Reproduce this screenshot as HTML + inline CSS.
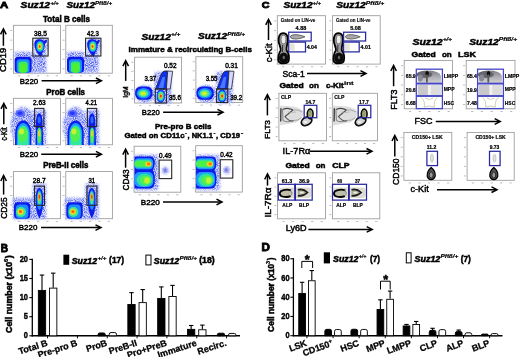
<!DOCTYPE html><html><head><meta charset="utf-8"><style>html,body{margin:0;padding:0;background:#fff;}svg{display:block;filter:blur(0.3px);}text{font-family:"Liberation Sans",sans-serif;}</style></head><body>
<svg width="520" height="357" viewBox="0 0 520 357">
<defs>
<filter id="b1" x="-30%" y="-30%" width="160%" height="160%"><feGaussianBlur stdDeviation="0.7"/></filter>
<filter id="b2" x="-30%" y="-30%" width="160%" height="160%"><feGaussianBlur stdDeviation="1.3"/></filter>
<filter id="b05" x="-30%" y="-30%" width="160%" height="160%"><feGaussianBlur stdDeviation="0.45"/></filter>
<radialGradient id="haze" cx="50%" cy="50%" r="50%">
 <stop offset="0" stop-color="#8090ff" stop-opacity="0.5"/>
 <stop offset="1" stop-color="#b0c0ff" stop-opacity="0"/>
</radialGradient>
<radialGradient id="dot" cx="50%" cy="50%" r="50%">
 <stop offset="0" stop-color="#6060e0"/>
 <stop offset="0.5" stop-color="#9898f0" stop-opacity="0.7"/>
 <stop offset="1" stop-color="#d0d0ff" stop-opacity="0"/>
</radialGradient>
<filter id="spk" x="-20%" y="-20%" width="140%" height="140%">
 <feGaussianBlur in="SourceGraphic" stdDeviation="1.4" result="bl"/>
 <feTurbulence type="fractalNoise" baseFrequency="1.1" numOctaves="1" seed="7" result="n"/>
 <feColorMatrix in="n" type="matrix" values="0 0 0 0 0  0 0 0 0 0  0 0 0 0 0  3 0 0 0 -1.1" result="na"/>
 <feComposite in="bl" in2="na" operator="in" result="c"/>
 <feGaussianBlur in="c" stdDeviation="0.35"/>
</filter>
<linearGradient id="lmpp" x1="0" y1="0" x2="0" y2="1">
 <stop offset="0" stop-color="#7c7c86"/>
 <stop offset="0.45" stop-color="#a8a8b0"/>
 <stop offset="1" stop-color="#d4d4d4"/>
</linearGradient>
</defs>

<rect width="520" height="357" fill="#fff"/>
<text x="0" y="8.4" font-size="8.8" font-weight="bold" fill="#000" stroke="#000" stroke-width="0.80" textLength="8.20" lengthAdjust="spacingAndGlyphs">A</text>
<text x="20.6" y="8.1" font-size="9.5" font-weight="bold" fill="#000" font-style="italic" stroke="#000" stroke-width="0.50" textLength="29.40" lengthAdjust="spacingAndGlyphs">Suz12</text>
<text x="50.4" y="4.6" font-size="5.3" font-weight="bold" fill="#000" font-style="italic" stroke="#000" stroke-width="0.20" textLength="8.30" lengthAdjust="spacingAndGlyphs">+/+</text>
<text x="66.5" y="8.1" font-size="9.5" font-weight="bold" fill="#000" font-style="italic" stroke="#000" stroke-width="0.50" textLength="28.50" lengthAdjust="spacingAndGlyphs">Suz12</text>
<text x="95" y="4.7" font-size="5.3" font-weight="bold" fill="#000" font-style="italic" stroke="#000" stroke-width="0.20" textLength="17.00" lengthAdjust="spacingAndGlyphs">Pft8/+</text>
<text x="43" y="21.6" font-size="8.3" font-weight="bold" fill="#000" stroke="#000" stroke-width="0.50" textLength="47.00" lengthAdjust="spacingAndGlyphs">Total B cells</text>
<rect x="13.4" y="25.3" width="47.10" height="47.90" fill="none" stroke="#9a9a9a" stroke-width="0.85"/>
<rect x="10.2" y="30.1" width="2" height="0.9" fill="#b4b4b4"/>
<rect x="10.2" y="39.7" width="2" height="0.9" fill="#b4b4b4"/>
<rect x="10.2" y="49.2" width="2" height="0.9" fill="#b4b4b4"/>
<rect x="10.2" y="58.8" width="2" height="0.9" fill="#b4b4b4"/>
<rect x="10.2" y="68.4" width="2" height="0.9" fill="#b4b4b4"/>
<rect x="18.1" y="75.4" width="2.2" height="0.9" fill="#b4b4b4"/>
<rect x="27.5" y="75.4" width="2.2" height="0.9" fill="#b4b4b4"/>
<rect x="37.0" y="75.4" width="2.2" height="0.9" fill="#b4b4b4"/>
<rect x="46.4" y="75.4" width="2.2" height="0.9" fill="#b4b4b4"/>
<rect x="55.8" y="75.4" width="2.2" height="0.9" fill="#b4b4b4"/>
<g filter="url(#b2)" fill="#dadefc"><rect x="30.0" y="54" width="16" height="18.5"/><rect x="36.0" y="50" width="7" height="22"/><rect x="14.5" y="52" width="17" height="6"/><ellipse cx="41.0" cy="46" rx="7" ry="9"/></g>
<g filter="url(#spk)" fill="#5060f0"><rect x="30.0" y="54" width="16" height="18.5"/><rect x="36.0" y="50" width="7" height="22"/><rect x="14.5" y="52" width="17" height="6"/><ellipse cx="41.0" cy="46" rx="7" ry="9"/></g>
<g filter="url(#b05)"><rect x="14.6" y="56.8" width="17" height="16" rx="3.5" fill="#0a18e8"/><rect x="16.6" y="59.2" width="13" height="13.6" rx="3" fill="#1a8cff"/><rect x="18.4" y="61.4" width="9.4" height="11.4" rx="3" fill="#38e868"/><rect x="19.8" y="63.5" width="6.5" height="9" rx="2.5" fill="#50f030"/></g>
<g filter="url(#b05)"><path d="M39.9 56.2 C37.0 53 34.3 48.5 34.4 44 C34.5 40.5 36.8 39.2 39.5 39.3 C41.5 39.4 43.0 40.2 44.0 41.2 L46.3 39.3 L47.2 41 L45.0 44 C45.0 48 42.5 52.5 41.2 56.2 Z" fill="#0a1ae8"/><ellipse cx="40.0" cy="46.4" rx="3.9" ry="5.7" fill="#1a8cff"/><ellipse cx="40.0" cy="46.4" rx="2.9" ry="4.4" fill="#40e880"/><ellipse cx="39.8" cy="46.4" rx="1.8" ry="2.8" fill="#f0e020"/><ellipse cx="39.7" cy="46.5" rx="0.9" ry="1.3" fill="#ff3000"/></g>
<rect x="32.8" y="38.2" width="15.30" height="17.80" fill="none" stroke="#262626" stroke-width="1.1"/>
<text x="34" y="35.7" font-size="6.7" font-weight="normal" fill="#000" stroke="#000" stroke-width="0.42" textLength="12.90" lengthAdjust="spacingAndGlyphs">38.5</text>
<rect x="65.8" y="25.3" width="46.50" height="47.90" fill="none" stroke="#9a9a9a" stroke-width="0.85"/>
<rect x="62.6" y="30.1" width="2" height="0.9" fill="#b4b4b4"/>
<rect x="62.6" y="39.7" width="2" height="0.9" fill="#b4b4b4"/>
<rect x="62.6" y="49.2" width="2" height="0.9" fill="#b4b4b4"/>
<rect x="62.6" y="58.8" width="2" height="0.9" fill="#b4b4b4"/>
<rect x="62.6" y="68.4" width="2" height="0.9" fill="#b4b4b4"/>
<rect x="70.5" y="75.4" width="2.2" height="0.9" fill="#b4b4b4"/>
<rect x="79.8" y="75.4" width="2.2" height="0.9" fill="#b4b4b4"/>
<rect x="89.0" y="75.4" width="2.2" height="0.9" fill="#b4b4b4"/>
<rect x="98.3" y="75.4" width="2.2" height="0.9" fill="#b4b4b4"/>
<rect x="107.7" y="75.4" width="2.2" height="0.9" fill="#b4b4b4"/>
<g filter="url(#b2)" fill="#dadefc"><rect x="82.4" y="54" width="16" height="18.5"/><rect x="88.8" y="50" width="7" height="22"/><rect x="66.9" y="52" width="17" height="6"/><ellipse cx="93.8" cy="46" rx="7" ry="9"/></g>
<g filter="url(#spk)" fill="#5060f0"><rect x="82.4" y="54" width="16" height="18.5"/><rect x="88.8" y="50" width="7" height="22"/><rect x="66.9" y="52" width="17" height="6"/><ellipse cx="93.8" cy="46" rx="7" ry="9"/></g>
<g filter="url(#b05)"><rect x="67.0" y="56.8" width="17" height="16" rx="3.5" fill="#0a18e8"/><rect x="69.0" y="59.2" width="13" height="13.6" rx="3" fill="#1a8cff"/><rect x="70.8" y="61.4" width="9.4" height="11.4" rx="3" fill="#38e868"/><rect x="72.2" y="63.5" width="6.5" height="9" rx="2.5" fill="#50f030"/></g>
<g filter="url(#b05)"><path d="M92.69999999999999 56.2 C89.8 53 87.1 48.5 87.19999999999999 44 C87.3 40.5 89.6 39.2 92.3 39.3 C94.3 39.4 95.8 40.2 96.8 41.2 L99.1 39.3 L100.0 41 L97.8 44 C97.8 48 95.3 52.5 94.0 56.2 Z" fill="#0a1ae8"/><ellipse cx="92.8" cy="46.4" rx="3.9" ry="5.7" fill="#1a8cff"/><ellipse cx="92.8" cy="46.4" rx="2.9" ry="4.4" fill="#40e880"/><ellipse cx="92.6" cy="46.4" rx="1.8" ry="2.8" fill="#f0e020"/><ellipse cx="92.5" cy="46.5" rx="0.9" ry="1.3" fill="#ff3000"/></g>
<rect x="85.6" y="38.2" width="15.30" height="17.80" fill="none" stroke="#262626" stroke-width="1.1"/>
<text x="87.1" y="35.7" font-size="6.7" font-weight="normal" fill="#000" stroke="#000" stroke-width="0.42" textLength="11.70" lengthAdjust="spacingAndGlyphs">42.3</text>
<text x="6.3" y="71.9" font-size="9.3" font-weight="normal" fill="#000" stroke="#000" stroke-width="0.45" textLength="24.10" lengthAdjust="spacingAndGlyphs" transform="rotate(-90 6.3 71.9)">CD19</text>
<line x1="3.4" y1="45.8" x2="3.4" y2="29.8" stroke="#000" stroke-width="1.5"/>
<polyline points="0.6000000000000001,34.3 3.4,28.8 6.199999999999999,34.3" fill="none" stroke="#000" stroke-width="1.5"/>
<text x="19.8" y="83.9" font-size="7.8" font-weight="normal" fill="#000" stroke="#000" stroke-width="0.43" textLength="18.30" lengthAdjust="spacingAndGlyphs">B220</text>
<line x1="41.6" y1="80.8" x2="100.4" y2="80.8" stroke="#000" stroke-width="1.5"/>
<polyline points="95.9,78.0 101.4,80.8 95.9,83.6" fill="none" stroke="#000" stroke-width="1.5"/>
<text x="46.3" y="94.6" font-size="8.3" font-weight="bold" fill="#000" stroke="#000" stroke-width="0.50" textLength="38.70" lengthAdjust="spacingAndGlyphs">ProB cells</text>
<rect x="13.4" y="98.3" width="47.10" height="46.50" fill="none" stroke="#9a9a9a" stroke-width="0.85"/>
<rect x="10.2" y="103.0" width="2" height="0.9" fill="#b4b4b4"/>
<rect x="10.2" y="112.2" width="2" height="0.9" fill="#b4b4b4"/>
<rect x="10.2" y="121.6" width="2" height="0.9" fill="#b4b4b4"/>
<rect x="10.2" y="130.9" width="2" height="0.9" fill="#b4b4b4"/>
<rect x="10.2" y="140.2" width="2" height="0.9" fill="#b4b4b4"/>
<rect x="18.1" y="147.0" width="2.2" height="0.9" fill="#b4b4b4"/>
<rect x="27.5" y="147.0" width="2.2" height="0.9" fill="#b4b4b4"/>
<rect x="37.0" y="147.0" width="2.2" height="0.9" fill="#b4b4b4"/>
<rect x="46.4" y="147.0" width="2.2" height="0.9" fill="#b4b4b4"/>
<rect x="55.8" y="147.0" width="2.2" height="0.9" fill="#b4b4b4"/>
<g filter="url(#b2)" fill="#dadefc"><ellipse cx="23.0" cy="126" rx="12" ry="19"/><rect x="33.0" y="110" width="13" height="35"/></g>
<g filter="url(#spk)" fill="#5060f0"><ellipse cx="23.0" cy="126" rx="12" ry="19"/><rect x="33.0" y="110" width="13" height="35"/></g>
<g filter="url(#b1)"><ellipse cx="20.2" cy="113.5" rx="4.8" ry="3.4" fill="#5a68ff"/><ellipse cx="20.0" cy="113.3" rx="2.5" ry="1.8" fill="#2838f8"/></g>
<g filter="url(#b05)"><path d="M15.0 145 L15.2 132 C15.5 126 19.0 120.8 23.3 120.6 C27.5 120.8 30.8 126 31.3 132 L31.4 145 Z" fill="#0a1ae8"/><path d="M16.6 145 L16.8 133 C17.0 127.5 19.8 123 23.2 123 C26.8 123 29.5 127.5 29.8 133 L29.8 145 Z" fill="#1c9cff"/><path d="M17.8 145 L18.0 134 C18.3 129 20.5 125.5 23.0 125.5 C25.8 125.5 28.2 129 28.5 134 L28.6 145 Z" fill="#30e8a0"/><ellipse cx="22.8" cy="134.5" rx="5" ry="7.5" fill="#50f050"/><ellipse cx="21.5" cy="131.5" rx="2.6" ry="3" fill="#c8f030"/></g>
<g filter="url(#b05)"><path d="M35.6 145 L35.8 124 Q36.0 113.5 39.2 113.3 Q42.5 113.5 42.6 124 L43.2 145 Z" fill="#0a1ae8"/><ellipse cx="39.2" cy="120" rx="1.6" ry="3.5" fill="#2a6cff"/><path d="M37.0 145 L37.0 130 Q39.3 125 41.6 130 L41.6 145 Z" fill="#1c9cff"/><ellipse cx="39.3" cy="135.5" rx="1.9" ry="8" fill="#48f048"/><ellipse cx="39.3" cy="133.5" rx="1.1" ry="3.3" fill="#f0d020"/></g>
<rect x="34.6" y="108.4" width="9.30" height="18.20" fill="none" stroke="#262626" stroke-width="1.1"/>
<text x="33" y="105" font-size="6.7" font-weight="normal" fill="#000" stroke="#000" stroke-width="0.42" textLength="12.70" lengthAdjust="spacingAndGlyphs">2.63</text>
<rect x="65.8" y="98.3" width="46.60" height="46.50" fill="none" stroke="#9a9a9a" stroke-width="0.85"/>
<rect x="62.6" y="103.0" width="2" height="0.9" fill="#b4b4b4"/>
<rect x="62.6" y="112.2" width="2" height="0.9" fill="#b4b4b4"/>
<rect x="62.6" y="121.6" width="2" height="0.9" fill="#b4b4b4"/>
<rect x="62.6" y="130.9" width="2" height="0.9" fill="#b4b4b4"/>
<rect x="62.6" y="140.2" width="2" height="0.9" fill="#b4b4b4"/>
<rect x="70.5" y="147.0" width="2.2" height="0.9" fill="#b4b4b4"/>
<rect x="79.8" y="147.0" width="2.2" height="0.9" fill="#b4b4b4"/>
<rect x="89.1" y="147.0" width="2.2" height="0.9" fill="#b4b4b4"/>
<rect x="98.4" y="147.0" width="2.2" height="0.9" fill="#b4b4b4"/>
<rect x="107.7" y="147.0" width="2.2" height="0.9" fill="#b4b4b4"/>
<g filter="url(#b2)" fill="#dadefc"><ellipse cx="75.4" cy="126" rx="12" ry="19"/><rect x="85.80000000000001" y="110" width="13" height="35"/></g>
<g filter="url(#spk)" fill="#5060f0"><ellipse cx="75.4" cy="126" rx="12" ry="19"/><rect x="85.80000000000001" y="110" width="13" height="35"/></g>
<g filter="url(#b1)"><ellipse cx="72.6" cy="113.5" rx="4.8" ry="3.4" fill="#5a68ff"/><ellipse cx="72.4" cy="113.3" rx="2.5" ry="1.8" fill="#2838f8"/></g>
<g filter="url(#b05)"><path d="M67.4 145 L67.6 132 C67.9 126 71.4 120.8 75.7 120.6 C79.9 120.8 83.2 126 83.7 132 L83.8 145 Z" fill="#0a1ae8"/><path d="M69.0 145 L69.2 133 C69.4 127.5 72.2 123 75.6 123 C79.2 123 81.9 127.5 82.2 133 L82.2 145 Z" fill="#1c9cff"/><path d="M70.2 145 L70.4 134 C70.7 129 72.9 125.5 75.4 125.5 C78.2 125.5 80.6 129 80.9 134 L81.0 145 Z" fill="#30e8a0"/><ellipse cx="75.2" cy="134.5" rx="5" ry="7.5" fill="#50f050"/><ellipse cx="73.9" cy="131.5" rx="2.6" ry="3" fill="#c8f030"/></g>
<g filter="url(#b05)"><path d="M88.4 145 L88.6 124 Q88.80000000000001 113.5 92.0 113.3 Q95.30000000000001 113.5 95.4 124 L96.0 145 Z" fill="#0a1ae8"/><ellipse cx="92.0" cy="120" rx="1.6" ry="3.5" fill="#2a6cff"/><path d="M89.80000000000001 145 L89.80000000000001 130 Q92.1 125 94.4 130 L94.4 145 Z" fill="#1c9cff"/><ellipse cx="92.1" cy="135.5" rx="1.9" ry="8" fill="#48f048"/><ellipse cx="92.1" cy="133.5" rx="1.1" ry="3.3" fill="#f0d020"/></g>
<rect x="87.4" y="108.4" width="9.30" height="18.20" fill="none" stroke="#262626" stroke-width="1.1"/>
<text x="85.6" y="105" font-size="6.7" font-weight="normal" fill="#000" stroke="#000" stroke-width="0.42" textLength="11.50" lengthAdjust="spacingAndGlyphs">4.21</text>
<text x="6.6" y="140.6" font-size="8.4" font-weight="normal" fill="#000" stroke="#000" stroke-width="0.45" textLength="13.20" lengthAdjust="spacingAndGlyphs" transform="rotate(-90 6.6 140.6)">c-Kit</text>
<line x1="3.8" y1="124.2" x2="3.8" y2="104.3" stroke="#000" stroke-width="1.5"/>
<polyline points="1.0,108.8 3.8,103.3 6.6,108.8" fill="none" stroke="#000" stroke-width="1.5"/>
<text x="19.8" y="156.9" font-size="7.8" font-weight="normal" fill="#000" stroke="#000" stroke-width="0.43" textLength="18.30" lengthAdjust="spacingAndGlyphs">B220</text>
<line x1="41.2" y1="154.2" x2="100.4" y2="154.2" stroke="#000" stroke-width="1.5"/>
<polyline points="95.9,151.39999999999998 101.4,154.2 95.9,157.0" fill="none" stroke="#000" stroke-width="1.5"/>
<text x="43.2" y="167.5" font-size="8.3" font-weight="bold" fill="#000" stroke="#000" stroke-width="0.50" textLength="45.20" lengthAdjust="spacingAndGlyphs">PreB-II cells</text>
<rect x="13.4" y="171.6" width="47.10" height="47.10" fill="none" stroke="#9a9a9a" stroke-width="0.85"/>
<rect x="10.2" y="176.3" width="2" height="0.9" fill="#b4b4b4"/>
<rect x="10.2" y="185.7" width="2" height="0.9" fill="#b4b4b4"/>
<rect x="10.2" y="195.1" width="2" height="0.9" fill="#b4b4b4"/>
<rect x="10.2" y="204.6" width="2" height="0.9" fill="#b4b4b4"/>
<rect x="10.2" y="214.0" width="2" height="0.9" fill="#b4b4b4"/>
<rect x="18.1" y="220.9" width="2.2" height="0.9" fill="#b4b4b4"/>
<rect x="27.5" y="220.9" width="2.2" height="0.9" fill="#b4b4b4"/>
<rect x="37.0" y="220.9" width="2.2" height="0.9" fill="#b4b4b4"/>
<rect x="46.4" y="220.9" width="2.2" height="0.9" fill="#b4b4b4"/>
<rect x="55.8" y="220.9" width="2.2" height="0.9" fill="#b4b4b4"/>
<g filter="url(#b2)" fill="#dadefc"><rect x="13.0" y="198" width="22" height="21"/><rect x="33.0" y="184" width="13" height="35"/></g>
<g filter="url(#spk)" fill="#5060f0"><rect x="13.0" y="198" width="22" height="21"/><rect x="33.0" y="184" width="13" height="35"/></g>
<g filter="url(#b05)"><rect x="14.0" y="202.3" width="16.2" height="16.5" rx="4" fill="#0a1ae8"/><rect x="15.8" y="204.5" width="12.6" height="14" rx="4" fill="#1c8cff"/><ellipse cx="21.0" cy="212" rx="5" ry="5" fill="#40e890"/><ellipse cx="20.6" cy="211.8" rx="3" ry="3" fill="#f0d820"/><ellipse cx="20.5" cy="211.6" rx="1.5" ry="1.5" fill="#ff6000"/></g>
<g filter="url(#b05)"><path d="M39.4 218.5 Q35.6 212 35.6 200 Q35.6 188 39.4 188 Q43.2 188 43.2 200 Q43.2 212 39.4 218.5 Z" fill="#0a1ae8"/><ellipse cx="39.4" cy="200" rx="2.7" ry="10" fill="#1c8cff"/><ellipse cx="39.4" cy="198" rx="2" ry="6.5" fill="#40e890"/><ellipse cx="39.4" cy="197" rx="1.3" ry="4" fill="#f0b020"/><ellipse cx="39.4" cy="196.8" rx="0.8" ry="2" fill="#ff4000"/></g>
<rect x="34.6" y="186.1" width="9.90" height="19.20" fill="none" stroke="#262626" stroke-width="1.1"/>
<text x="32.8" y="182.6" font-size="6.7" font-weight="normal" fill="#000" stroke="#000" stroke-width="0.42" textLength="12.90" lengthAdjust="spacingAndGlyphs">28.7</text>
<rect x="65.8" y="171.6" width="46.60" height="47.10" fill="none" stroke="#9a9a9a" stroke-width="0.85"/>
<rect x="62.6" y="176.3" width="2" height="0.9" fill="#b4b4b4"/>
<rect x="62.6" y="185.7" width="2" height="0.9" fill="#b4b4b4"/>
<rect x="62.6" y="195.1" width="2" height="0.9" fill="#b4b4b4"/>
<rect x="62.6" y="204.6" width="2" height="0.9" fill="#b4b4b4"/>
<rect x="62.6" y="214.0" width="2" height="0.9" fill="#b4b4b4"/>
<rect x="70.5" y="220.9" width="2.2" height="0.9" fill="#b4b4b4"/>
<rect x="79.8" y="220.9" width="2.2" height="0.9" fill="#b4b4b4"/>
<rect x="89.1" y="220.9" width="2.2" height="0.9" fill="#b4b4b4"/>
<rect x="98.4" y="220.9" width="2.2" height="0.9" fill="#b4b4b4"/>
<rect x="107.7" y="220.9" width="2.2" height="0.9" fill="#b4b4b4"/>
<g filter="url(#b2)" fill="#dadefc"><rect x="65.4" y="198" width="22" height="21"/><rect x="85.4" y="184" width="13" height="35"/></g>
<g filter="url(#spk)" fill="#5060f0"><rect x="65.4" y="198" width="22" height="21"/><rect x="85.4" y="184" width="13" height="35"/></g>
<g filter="url(#b05)"><rect x="66.4" y="202.3" width="16.2" height="16.5" rx="4" fill="#0a1ae8"/><rect x="68.2" y="204.5" width="12.6" height="14" rx="4" fill="#1c8cff"/><ellipse cx="73.4" cy="212" rx="5" ry="5" fill="#40e890"/><ellipse cx="73.0" cy="211.8" rx="3" ry="3" fill="#f0d820"/><ellipse cx="72.9" cy="211.6" rx="1.5" ry="1.5" fill="#ff6000"/></g>
<g filter="url(#b05)"><path d="M91.8 218.5 Q88.0 212 88.0 200 Q88.0 188 91.8 188 Q95.6 188 95.6 200 Q95.6 212 91.8 218.5 Z" fill="#0a1ae8"/><ellipse cx="91.8" cy="200" rx="2.7" ry="10" fill="#1c8cff"/><ellipse cx="91.8" cy="198" rx="2" ry="6.5" fill="#40e890"/><ellipse cx="91.8" cy="197" rx="1.3" ry="4" fill="#f0b020"/><ellipse cx="91.8" cy="196.8" rx="0.8" ry="2" fill="#ff4000"/></g>
<rect x="87" y="186.1" width="9.90" height="19.20" fill="none" stroke="#262626" stroke-width="1.1"/>
<text x="88.4" y="182.6" font-size="6.7" font-weight="normal" fill="#000" stroke="#000" stroke-width="0.42" textLength="6.70" lengthAdjust="spacingAndGlyphs">31</text>
<text x="6.9" y="218.7" font-size="8.6" font-weight="normal" fill="#000" stroke="#000" stroke-width="0.45" textLength="21.40" lengthAdjust="spacingAndGlyphs" transform="rotate(-90 6.9 218.7)">CD25</text>
<line x1="3.6" y1="194.6" x2="3.6" y2="176.5" stroke="#000" stroke-width="1.5"/>
<polyline points="0.8000000000000003,181.0 3.6,175.5 6.4,181.0" fill="none" stroke="#000" stroke-width="1.5"/>
<text x="18.8" y="230.1" font-size="7.8" font-weight="normal" fill="#000" stroke="#000" stroke-width="0.43" textLength="18.50" lengthAdjust="spacingAndGlyphs">B220</text>
<line x1="41" y1="227.6" x2="100" y2="227.6" stroke="#000" stroke-width="1.5"/>
<polyline points="95.5,224.79999999999998 101,227.6 95.5,230.4" fill="none" stroke="#000" stroke-width="1.5"/>
<text x="141.5" y="39.5" font-size="9.5" font-weight="bold" fill="#000" font-style="italic" stroke="#000" stroke-width="0.50" textLength="29.30" lengthAdjust="spacingAndGlyphs">Suz12</text>
<text x="171" y="35.7" font-size="5.3" font-weight="bold" fill="#000" font-style="italic" stroke="#000" stroke-width="0.20" textLength="9.30" lengthAdjust="spacingAndGlyphs">+/+</text>
<text x="198.1" y="39.4" font-size="9.5" font-weight="bold" fill="#000" font-style="italic" stroke="#000" stroke-width="0.50" textLength="28.90" lengthAdjust="spacingAndGlyphs">Suz12</text>
<text x="227.2" y="35.6" font-size="5.3" font-weight="bold" fill="#000" font-style="italic" stroke="#000" stroke-width="0.20" textLength="18.00" lengthAdjust="spacingAndGlyphs">Pft8/+</text>
<text x="128.5" y="51.9" font-size="7.8" font-weight="bold" fill="#000" stroke="#000" stroke-width="0.47" textLength="123.40" lengthAdjust="spacingAndGlyphs">Immature &amp; recirculating B-cells</text>
<rect x="134.6" y="57.2" width="47.00" height="45.80" fill="none" stroke="#9a9a9a" stroke-width="0.85"/>
<rect x="131.4" y="61.8" width="2" height="0.9" fill="#b4b4b4"/>
<rect x="131.4" y="70.9" width="2" height="0.9" fill="#b4b4b4"/>
<rect x="131.4" y="80.1" width="2" height="0.9" fill="#b4b4b4"/>
<rect x="131.4" y="89.3" width="2" height="0.9" fill="#b4b4b4"/>
<rect x="131.4" y="98.4" width="2" height="0.9" fill="#b4b4b4"/>
<rect x="139.3" y="105.2" width="2.2" height="0.9" fill="#b4b4b4"/>
<rect x="148.7" y="105.2" width="2.2" height="0.9" fill="#b4b4b4"/>
<rect x="158.1" y="105.2" width="2.2" height="0.9" fill="#b4b4b4"/>
<rect x="167.5" y="105.2" width="2.2" height="0.9" fill="#b4b4b4"/>
<rect x="176.9" y="105.2" width="2.2" height="0.9" fill="#b4b4b4"/>
<g filter="url(#b2)" fill="#dadefc"><ellipse cx="145.0" cy="94" rx="10.5" ry="8.5"/><rect x="155.0" y="72" width="16" height="31"/></g>
<g filter="url(#spk)" fill="#5060f0"><ellipse cx="145.0" cy="94" rx="10.5" ry="8.5"/><rect x="155.0" y="72" width="16" height="31"/></g>
<g filter="url(#b05)"><rect x="135.2" y="86.4" width="17.2" height="13.4" rx="5.5" fill="#0a1ae8"/><ellipse cx="143.6" cy="93.2" rx="7" ry="5.2" fill="#1c8cff"/><ellipse cx="143.4" cy="93.4" rx="5" ry="3.6" fill="#40e8a0"/><ellipse cx="143.2" cy="93.5" rx="2.8" ry="2" fill="#d0f020"/></g>
<path d="M155.7 89 L161.0 74.5 Q162.5 71 165.0 71 L167.7 71 L166.4 89 Z" fill="#1030f0" stroke="#222" stroke-width="0.8"/>
<g filter="url(#b05)"><path d="M158.5 88 L162.5 77 L165.0 77 L163.5 88 Z" fill="#4a78ff"/></g>
<path d="M167.7 71 L172.7 71.3 L170.2 89 L166.4 89 Z" fill="#d4d8ff" stroke="#222" stroke-width="0.8"/>
<g filter="url(#b05)"><ellipse cx="160.8" cy="96" rx="4.2" ry="6.8" fill="#1028f0"/><ellipse cx="160.8" cy="96" rx="3.5" ry="5.5" fill="#1c8cff"/><ellipse cx="160.8" cy="96" rx="2.7" ry="4.2" fill="#40e890"/><ellipse cx="160.8" cy="96" rx="1.7" ry="2.7" fill="#f0c020"/><ellipse cx="160.8" cy="96" rx="1" ry="1.6" fill="#ff3000"/></g>
<rect x="155.3" y="89" width="11.10" height="14.00" fill="none" stroke="#262626" stroke-width="1.1"/>
<text x="163.9" y="67.9" font-size="6.7" font-weight="normal" fill="#000" stroke="#000" stroke-width="0.42" textLength="12.60" lengthAdjust="spacingAndGlyphs">0.52</text>
<text x="144.4" y="80.9" font-size="6.7" font-weight="normal" fill="#000" stroke="#000" stroke-width="0.42" textLength="11.80" lengthAdjust="spacingAndGlyphs">3.37</text>
<text x="168.9" y="99.7" font-size="6.7" font-weight="normal" fill="#000" stroke="#000" stroke-width="0.42" textLength="12.00" lengthAdjust="spacingAndGlyphs">35.6</text>
<rect x="195.9" y="56.7" width="46.80" height="45.80" fill="none" stroke="#9a9a9a" stroke-width="0.85"/>
<rect x="192.7" y="61.3" width="2" height="0.9" fill="#b4b4b4"/>
<rect x="192.7" y="70.4" width="2" height="0.9" fill="#b4b4b4"/>
<rect x="192.7" y="79.6" width="2" height="0.9" fill="#b4b4b4"/>
<rect x="192.7" y="88.8" width="2" height="0.9" fill="#b4b4b4"/>
<rect x="192.7" y="97.9" width="2" height="0.9" fill="#b4b4b4"/>
<rect x="200.6" y="104.7" width="2.2" height="0.9" fill="#b4b4b4"/>
<rect x="209.9" y="104.7" width="2.2" height="0.9" fill="#b4b4b4"/>
<rect x="219.3" y="104.7" width="2.2" height="0.9" fill="#b4b4b4"/>
<rect x="228.7" y="104.7" width="2.2" height="0.9" fill="#b4b4b4"/>
<rect x="238.0" y="104.7" width="2.2" height="0.9" fill="#b4b4b4"/>
<g filter="url(#b2)" fill="#dadefc"><ellipse cx="206.3" cy="94" rx="10.5" ry="8.5"/><rect x="216.3" y="72" width="16" height="31"/></g>
<g filter="url(#spk)" fill="#5060f0"><ellipse cx="206.3" cy="94" rx="10.5" ry="8.5"/><rect x="216.3" y="72" width="16" height="31"/></g>
<g filter="url(#b05)"><rect x="196.5" y="86.4" width="17.2" height="13.4" rx="5.5" fill="#0a1ae8"/><ellipse cx="204.9" cy="93.2" rx="7" ry="5.2" fill="#1c8cff"/><ellipse cx="204.70000000000002" cy="93.4" rx="5" ry="3.6" fill="#40e8a0"/><ellipse cx="204.5" cy="93.5" rx="2.8" ry="2" fill="#d0f020"/></g>
<path d="M217.0 89 L222.3 74.5 Q223.8 71 226.3 71 L229.0 71 L227.70000000000002 89 Z" fill="#1030f0" stroke="#222" stroke-width="0.8"/>
<g filter="url(#b05)"><path d="M219.8 88 L223.8 77 L226.3 77 L224.8 88 Z" fill="#4a78ff"/></g>
<path d="M229.0 71 L234.0 71.3 L231.5 89 L227.70000000000002 89 Z" fill="#d4d8ff" stroke="#222" stroke-width="0.8"/>
<g filter="url(#b05)"><ellipse cx="222.10000000000002" cy="96" rx="4.2" ry="6.8" fill="#1028f0"/><ellipse cx="222.10000000000002" cy="96" rx="3.5" ry="5.5" fill="#1c8cff"/><ellipse cx="222.10000000000002" cy="96" rx="2.7" ry="4.2" fill="#40e890"/><ellipse cx="222.10000000000002" cy="96" rx="1.7" ry="2.7" fill="#f0c020"/><ellipse cx="222.10000000000002" cy="96" rx="1" ry="1.6" fill="#ff3000"/></g>
<rect x="216.60000000000002" y="89" width="11.10" height="13.50" fill="none" stroke="#262626" stroke-width="1.1"/>
<text x="225.20000000000002" y="67.9" font-size="6.7" font-weight="normal" fill="#000" stroke="#000" stroke-width="0.42" textLength="12.60" lengthAdjust="spacingAndGlyphs">0.31</text>
<text x="205.70000000000002" y="80.9" font-size="6.7" font-weight="normal" fill="#000" stroke="#000" stroke-width="0.42" textLength="11.80" lengthAdjust="spacingAndGlyphs">3.55</text>
<text x="230.20000000000002" y="99.7" font-size="6.7" font-weight="normal" fill="#000" stroke="#000" stroke-width="0.42" textLength="12.00" lengthAdjust="spacingAndGlyphs">39.2</text>
<text x="127.9" y="97.7" font-size="7.5" font-weight="normal" fill="#000" stroke="#000" stroke-width="0.39" textLength="11.20" lengthAdjust="spacingAndGlyphs" transform="rotate(-90 127.9 97.7)">IgM</text>
<line x1="125.7" y1="80.9" x2="125.7" y2="61.6" stroke="#000" stroke-width="1.5"/>
<polyline points="122.9,66.1 125.7,60.6 128.5,66.1" fill="none" stroke="#000" stroke-width="1.5"/>
<text x="141.8" y="115" font-size="8" font-weight="normal" fill="#000" stroke="#000" stroke-width="0.45" textLength="17.90" lengthAdjust="spacingAndGlyphs">B220</text>
<line x1="163.1" y1="112.2" x2="222" y2="112.2" stroke="#000" stroke-width="1.5"/>
<polyline points="217.5,109.4 223,112.2 217.5,115.0" fill="none" stroke="#000" stroke-width="1.5"/>
<text x="155" y="129" font-size="7.8" font-weight="bold" fill="#000" stroke="#000" stroke-width="0.47" textLength="56.50" lengthAdjust="spacingAndGlyphs">Pre-pro B cells</text>
<text x="124.4" y="138.3" font-size="7.8" font-weight="bold" fill="#000" stroke="#000" stroke-width="0.47" textLength="60.20" lengthAdjust="spacingAndGlyphs">Gated on CD11c</text>
<text x="185" y="135.3" font-size="5" font-weight="bold" fill="#000" stroke="#000" stroke-width="0.18" textLength="2.00" lengthAdjust="spacingAndGlyphs">-</text>
<text x="187.5" y="138.3" font-size="7.8" font-weight="bold" fill="#000" stroke="#000" stroke-width="0.47" textLength="25.50" lengthAdjust="spacingAndGlyphs">, NK1.1</text>
<text x="213.4" y="135.3" font-size="5" font-weight="bold" fill="#000" stroke="#000" stroke-width="0.18" textLength="2.00" lengthAdjust="spacingAndGlyphs">-</text>
<text x="216" y="138.3" font-size="7.8" font-weight="bold" fill="#000" stroke="#000" stroke-width="0.47" textLength="24.00" lengthAdjust="spacingAndGlyphs">, CD19</text>
<text x="240.7" y="135.3" font-size="5" font-weight="bold" fill="#000" stroke="#000" stroke-width="0.18" textLength="2.60" lengthAdjust="spacingAndGlyphs">-</text>
<rect x="134.1" y="146.2" width="46.70" height="46.00" fill="none" stroke="#9a9a9a" stroke-width="0.85"/>
<rect x="130.9" y="150.8" width="2" height="0.9" fill="#b4b4b4"/>
<rect x="130.9" y="160.0" width="2" height="0.9" fill="#b4b4b4"/>
<rect x="130.9" y="169.2" width="2" height="0.9" fill="#b4b4b4"/>
<rect x="130.9" y="178.4" width="2" height="0.9" fill="#b4b4b4"/>
<rect x="130.9" y="187.6" width="2" height="0.9" fill="#b4b4b4"/>
<rect x="138.8" y="194.4" width="2.2" height="0.9" fill="#b4b4b4"/>
<rect x="148.1" y="194.4" width="2.2" height="0.9" fill="#b4b4b4"/>
<rect x="157.4" y="194.4" width="2.2" height="0.9" fill="#b4b4b4"/>
<rect x="166.8" y="194.4" width="2.2" height="0.9" fill="#b4b4b4"/>
<rect x="176.1" y="194.4" width="2.2" height="0.9" fill="#b4b4b4"/>
<g filter="url(#b2)" fill="#dadefc"><rect x="135.0" y="155" width="23" height="35"/><ellipse cx="165.3" cy="170.3" rx="3" ry="3.5"/></g>
<g filter="url(#spk)" fill="#5060f0"><rect x="135.0" y="155" width="23" height="35"/><ellipse cx="165.3" cy="170.3" rx="3" ry="3.5"/></g>
<g filter="url(#b05)"><path d="M134.5 156.6 L151.0 156.5 Q155.0 157.5 154.8 163 Q154.6 168 152.8 170.5 Q155.0 173 154.8 180 Q154.6 188.3 150.0 188.6 L134.5 188.6 Z" fill="#0a1ae8"/><rect x="134.5" y="158.3" width="18.5" height="11" rx="4" fill="#1c9cff"/><rect x="134.5" y="159.8" width="17" height="8" rx="3.5" fill="#30e0a0"/><rect x="134.5" y="161" width="14" height="5.5" rx="2.5" fill="#48f048"/><ellipse cx="148.3" cy="164" rx="3.2" ry="2.6" fill="#f0d820"/><ellipse cx="148.6" cy="164" rx="1.7" ry="1.4" fill="#ff7000"/><rect x="134.5" y="172" width="18.8" height="15" rx="5" fill="#1c9cff"/><ellipse cx="144.5" cy="180" rx="8" ry="6.5" fill="#30e0a0"/><ellipse cx="145.5" cy="180.3" rx="5.5" ry="4.6" fill="#50f050"/><ellipse cx="147.0" cy="180.5" rx="2.8" ry="3.2" fill="#c0f030"/></g>
<ellipse cx="165.1" cy="170.29999999999998" rx="3.6" ry="4.2" fill="url(#dot)" opacity="1"/>
<rect x="159.1" y="160.1" width="12.60" height="18.50" fill="none" stroke="#262626" stroke-width="1.1"/>
<text x="159.1" y="157.6" font-size="6.7" font-weight="normal" fill="#000" stroke="#000" stroke-width="0.42" textLength="12.40" lengthAdjust="spacingAndGlyphs">0.49</text>
<rect x="195.7" y="145.7" width="46.60" height="46.40" fill="none" stroke="#9a9a9a" stroke-width="0.85"/>
<rect x="192.5" y="150.3" width="2" height="0.9" fill="#b4b4b4"/>
<rect x="192.5" y="159.6" width="2" height="0.9" fill="#b4b4b4"/>
<rect x="192.5" y="168.9" width="2" height="0.9" fill="#b4b4b4"/>
<rect x="192.5" y="178.2" width="2" height="0.9" fill="#b4b4b4"/>
<rect x="192.5" y="187.5" width="2" height="0.9" fill="#b4b4b4"/>
<rect x="200.4" y="194.3" width="2.2" height="0.9" fill="#b4b4b4"/>
<rect x="209.7" y="194.3" width="2.2" height="0.9" fill="#b4b4b4"/>
<rect x="219.0" y="194.3" width="2.2" height="0.9" fill="#b4b4b4"/>
<rect x="228.3" y="194.3" width="2.2" height="0.9" fill="#b4b4b4"/>
<rect x="237.6" y="194.3" width="2.2" height="0.9" fill="#b4b4b4"/>
<g filter="url(#b2)" fill="#dadefc"><rect x="196.6" y="155" width="23" height="35"/><ellipse cx="226.9" cy="170.3" rx="3" ry="3.5"/></g>
<g filter="url(#spk)" fill="#5060f0"><rect x="196.6" y="155" width="23" height="35"/><ellipse cx="226.9" cy="170.3" rx="3" ry="3.5"/></g>
<g filter="url(#b05)"><path d="M196.1 156.6 L212.6 156.5 Q216.6 157.5 216.4 163 Q216.2 168 214.4 170.5 Q216.6 173 216.4 180 Q216.2 188.3 211.6 188.6 L196.1 188.6 Z" fill="#0a1ae8"/><rect x="196.1" y="158.3" width="18.5" height="11" rx="4" fill="#1c9cff"/><rect x="196.1" y="159.8" width="17" height="8" rx="3.5" fill="#30e0a0"/><rect x="196.1" y="161" width="14" height="5.5" rx="2.5" fill="#48f048"/><ellipse cx="209.9" cy="164" rx="3.2" ry="2.6" fill="#f0d820"/><ellipse cx="210.2" cy="164" rx="1.7" ry="1.4" fill="#ff7000"/><rect x="196.1" y="172" width="18.8" height="15" rx="5" fill="#1c9cff"/><ellipse cx="206.1" cy="180" rx="8" ry="6.5" fill="#30e0a0"/><ellipse cx="207.1" cy="180.3" rx="5.5" ry="4.6" fill="#50f050"/><ellipse cx="208.6" cy="180.5" rx="2.8" ry="3.2" fill="#c0f030"/></g>
<ellipse cx="226.2" cy="169.89999999999998" rx="3.6" ry="4.2" fill="url(#dot)" opacity="1"/>
<rect x="220.2" y="159.7" width="12.60" height="18.40" fill="none" stroke="#262626" stroke-width="1.1"/>
<text x="220.2" y="157.2" font-size="6.7" font-weight="normal" fill="#000" stroke="#000" stroke-width="0.42" textLength="12.40" lengthAdjust="spacingAndGlyphs">0.42</text>
<text x="128.9" y="190.4" font-size="8.2" font-weight="normal" fill="#000" stroke="#000" stroke-width="0.45" textLength="21.00" lengthAdjust="spacingAndGlyphs" transform="rotate(-90 128.9 190.4)">CD43</text>
<line x1="125.6" y1="167.7" x2="125.6" y2="150.2" stroke="#000" stroke-width="1.5"/>
<polyline points="122.8,154.7 125.6,149.2 128.4,154.7" fill="none" stroke="#000" stroke-width="1.5"/>
<text x="140.8" y="204.6" font-size="7.8" font-weight="normal" fill="#000" stroke="#000" stroke-width="0.43" textLength="19.00" lengthAdjust="spacingAndGlyphs">B220</text>
<line x1="163" y1="202" x2="221" y2="202" stroke="#000" stroke-width="1.5"/>
<polyline points="216.5,199.2 222,202 216.5,204.8" fill="none" stroke="#000" stroke-width="1.5"/>
<text x="0.8" y="251.8" font-size="10.4" font-weight="bold" fill="#000" stroke="#000" stroke-width="0.80" textLength="7.30" lengthAdjust="spacingAndGlyphs">B</text>
<line x1="32.3" y1="258.8" x2="32.3" y2="336.40000000000003" stroke="#000" stroke-width="1.3"/>
<line x1="31.699999999999996" y1="335.8" x2="240" y2="335.8" stroke="#000" stroke-width="1.4"/>
<line x1="29.299999999999997" y1="259.40" x2="32.3" y2="259.40" stroke="#000" stroke-width="1.1"/>
<text x="28" y="262.00000000000006" font-size="8.4" font-weight="bold" text-anchor="end" fill="#000" stroke="#000" stroke-width="0.40" textLength="8.30" lengthAdjust="spacingAndGlyphs">20</text>
<line x1="29.299999999999997" y1="278.50" x2="32.3" y2="278.50" stroke="#000" stroke-width="1.1"/>
<text x="28" y="281.1" font-size="8.4" font-weight="bold" text-anchor="end" fill="#000" stroke="#000" stroke-width="0.40" textLength="8.30" lengthAdjust="spacingAndGlyphs">15</text>
<line x1="29.299999999999997" y1="297.60" x2="32.3" y2="297.60" stroke="#000" stroke-width="1.1"/>
<text x="28" y="300.20000000000005" font-size="8.4" font-weight="bold" text-anchor="end" fill="#000" stroke="#000" stroke-width="0.40" textLength="8.30" lengthAdjust="spacingAndGlyphs">10</text>
<line x1="29.299999999999997" y1="316.70" x2="32.3" y2="316.70" stroke="#000" stroke-width="1.1"/>
<text x="28" y="319.3" font-size="8.4" font-weight="bold" text-anchor="end" fill="#000" stroke="#000" stroke-width="0.40" textLength="4.15" lengthAdjust="spacingAndGlyphs">5</text>
<line x1="29.299999999999997" y1="335.80" x2="32.3" y2="335.80" stroke="#000" stroke-width="1.1"/>
<text x="28" y="338.40000000000003" font-size="8.4" font-weight="bold" text-anchor="end" fill="#000" stroke="#000" stroke-width="0.40" textLength="4.15" lengthAdjust="spacingAndGlyphs">0</text>
<line x1="47.6" y1="335.8" x2="47.6" y2="338.3" stroke="#000" stroke-width="1"/>
<line x1="42.0" y1="275.06" x2="42.0" y2="289.96" stroke="#000" stroke-width="1.1"/>
<line x1="39.8" y1="275.06" x2="44.2" y2="275.06" stroke="#000" stroke-width="1.1"/>
<rect x="38.35" y="290.41" width="7.30" height="45.39" fill="#000" stroke="#000" stroke-width="0.9"/>
<line x1="53.2" y1="273.15" x2="53.2" y2="287.67" stroke="#000" stroke-width="1.1"/>
<line x1="51.0" y1="273.15" x2="55.400000000000006" y2="273.15" stroke="#000" stroke-width="1.1"/>
<rect x="49.55" y="288.12" width="7.30" height="47.68" fill="#fff" stroke="#000" stroke-width="0.9"/>
<line x1="77.43" y1="335.8" x2="77.43" y2="338.3" stroke="#000" stroke-width="1"/>
<line x1="107.25999999999999" y1="335.8" x2="107.25999999999999" y2="338.3" stroke="#000" stroke-width="1"/>
<path d="M98.01 335.8 L98.01 334.65 Q98.01 332.94 99.73 332.94 L103.59 332.94 Q105.31 332.94 105.31 334.65 L105.31 335.8 Z" fill="#000" stroke="#000" stroke-width="0.95"/>
<path d="M109.21 335.8 L109.21 334.35 Q109.21 332.55 111.01 332.55 L114.71 332.55 Q116.51 332.55 116.51 334.35 L116.51 335.8 Z" fill="#fff" stroke="#000" stroke-width="0.95"/>
<line x1="137.09" y1="335.8" x2="137.09" y2="338.3" stroke="#000" stroke-width="1"/>
<line x1="131.49" y1="292.63" x2="131.49" y2="304.09" stroke="#000" stroke-width="1.1"/>
<line x1="129.29000000000002" y1="292.63" x2="133.69" y2="292.63" stroke="#000" stroke-width="1.1"/>
<rect x="127.84" y="304.54" width="7.30" height="31.26" fill="#000" stroke="#000" stroke-width="0.9"/>
<line x1="142.69" y1="289.58" x2="142.69" y2="302.18" stroke="#000" stroke-width="1.1"/>
<line x1="140.49" y1="289.58" x2="144.89" y2="289.58" stroke="#000" stroke-width="1.1"/>
<rect x="139.04" y="302.63" width="7.30" height="33.17" fill="#fff" stroke="#000" stroke-width="0.9"/>
<line x1="166.92" y1="335.8" x2="166.92" y2="338.3" stroke="#000" stroke-width="1"/>
<line x1="161.32" y1="286.90" x2="161.32" y2="297.98" stroke="#000" stroke-width="1.1"/>
<line x1="159.12" y1="286.90" x2="163.51999999999998" y2="286.90" stroke="#000" stroke-width="1.1"/>
<rect x="157.67" y="298.43" width="7.30" height="37.37" fill="#000" stroke="#000" stroke-width="0.9"/>
<line x1="172.51999999999998" y1="285.38" x2="172.51999999999998" y2="296.07" stroke="#000" stroke-width="1.1"/>
<line x1="170.32" y1="285.38" x2="174.71999999999997" y2="285.38" stroke="#000" stroke-width="1.1"/>
<rect x="168.87" y="296.52" width="7.30" height="39.28" fill="#fff" stroke="#000" stroke-width="0.9"/>
<line x1="196.74999999999997" y1="335.8" x2="196.74999999999997" y2="338.3" stroke="#000" stroke-width="1"/>
<line x1="191.14999999999998" y1="325.49" x2="191.14999999999998" y2="328.92" stroke="#000" stroke-width="1.1"/>
<line x1="188.95" y1="325.49" x2="193.34999999999997" y2="325.49" stroke="#000" stroke-width="1.1"/>
<rect x="187.50" y="329.37" width="7.30" height="6.43" fill="#000" stroke="#000" stroke-width="0.9"/>
<line x1="202.34999999999997" y1="325.10" x2="202.34999999999997" y2="329.31" stroke="#000" stroke-width="1.1"/>
<line x1="200.14999999999998" y1="325.10" x2="204.54999999999995" y2="325.10" stroke="#000" stroke-width="1.1"/>
<rect x="198.70" y="329.76" width="7.30" height="6.04" fill="#fff" stroke="#000" stroke-width="0.9"/>
<line x1="226.57999999999998" y1="335.8" x2="226.57999999999998" y2="338.3" stroke="#000" stroke-width="1"/>
<path d="M217.33 335.8 L217.33 334.76 Q217.33 333.20 218.89 333.20 L223.07 333.20 Q224.63 333.20 224.63 334.76 L224.63 335.8 Z" fill="#000" stroke="#000" stroke-width="0.95"/>
<path d="M228.53 335.8 L228.53 334.85 Q228.53 333.43 229.95 333.43 L234.41 333.43 Q235.83 333.43 235.83 334.85 L235.83 335.8 Z" fill="#fff" stroke="#000" stroke-width="0.95"/>
<text x="48.1" y="345.40000000000003" font-size="9" font-weight="bold" stroke="#000" stroke-width="0.28" text-anchor="end" transform="rotate(-18 48.1 345.40000000000003)">Total B</text>
<text x="77.92999999999999" y="345.40000000000003" font-size="9" font-weight="bold" stroke="#000" stroke-width="0.28" text-anchor="end" transform="rotate(-18 77.92999999999999 345.40000000000003)">Pre-pro B</text>
<text x="107.75999999999999" y="345.40000000000003" font-size="9" font-weight="bold" stroke="#000" stroke-width="0.28" text-anchor="end" transform="rotate(-18 107.75999999999999 345.40000000000003)">ProB</text>
<text x="137.59" y="345.40000000000003" font-size="9" font-weight="bold" stroke="#000" stroke-width="0.28" text-anchor="end" transform="rotate(-18 137.59 345.40000000000003)">PreB-II</text>
<text x="167.42" y="345.40000000000003" font-size="9" font-weight="bold" stroke="#000" stroke-width="0.28" text-anchor="end" transform="rotate(-18 167.42 345.40000000000003)">Pro+PreB</text>
<text x="197.24999999999997" y="345.40000000000003" font-size="9" font-weight="bold" stroke="#000" stroke-width="0.28" text-anchor="end" transform="rotate(-18 197.24999999999997 345.40000000000003)">Immature</text>
<text x="227.07999999999998" y="345.40000000000003" font-size="9" font-weight="bold" stroke="#000" stroke-width="0.28" text-anchor="end" transform="rotate(-18 227.07999999999998 345.40000000000003)">Recirc.</text>
<text x="12" y="332.9" font-size="8.8" font-weight="bold" fill="#000" stroke="#000" stroke-width="0.50" textLength="71.00" lengthAdjust="spacingAndGlyphs" transform="rotate(-90 12 332.9)">Cell number (x10</text>
<text x="7.6" y="261.9" font-size="5.6" font-weight="bold" fill="#000" stroke="#000" stroke-width="0.23" textLength="3.20" lengthAdjust="spacingAndGlyphs" transform="rotate(-90 7.6 261.9)">6</text>
<text x="12" y="258.2" font-size="8.8" font-weight="bold" fill="#000" stroke="#000" stroke-width="0.50" textLength="2.90" lengthAdjust="spacingAndGlyphs" transform="rotate(-90 12 258.2)">)</text>
<rect x="63.4" y="254.7" width="5.8" height="10.1" fill="#000"/>
<text x="71.8" y="263.5" font-size="8.5" font-weight="bold" fill="#000" font-style="italic" stroke="#000" stroke-width="0.50" textLength="25.20" lengthAdjust="spacingAndGlyphs">Suz12</text>
<text x="97.4" y="259.6" font-size="5" font-weight="bold" fill="#000" font-style="italic" stroke="#000" stroke-width="0.18" textLength="9.00" lengthAdjust="spacingAndGlyphs">+/+</text>
<text x="109.1" y="263" font-size="8.2" font-weight="bold" fill="#000" stroke="#000" stroke-width="0.50" textLength="14.90" lengthAdjust="spacingAndGlyphs">(17)</text>
<rect x="145.9" y="255.1" width="5.1" height="9.8" fill="#fff" stroke="#000" stroke-width="1"/>
<text x="153.8" y="263.5" font-size="8.5" font-weight="bold" fill="#000" font-style="italic" stroke="#000" stroke-width="0.50" textLength="25.40" lengthAdjust="spacingAndGlyphs">Suz12</text>
<text x="179.4" y="259.6" font-size="5" font-weight="bold" fill="#000" font-style="italic" stroke="#000" stroke-width="0.18" textLength="17.50" lengthAdjust="spacingAndGlyphs">Pft8/+</text>
<text x="199.2" y="263" font-size="8.2" font-weight="bold" fill="#000" stroke="#000" stroke-width="0.50" textLength="15.40" lengthAdjust="spacingAndGlyphs">(18)</text>
<text x="261.4" y="251.2" font-size="10" font-weight="bold" fill="#000" stroke="#000" stroke-width="0.80" textLength="8.40" lengthAdjust="spacingAndGlyphs">D</text>
<line x1="293.4" y1="258.14" x2="293.4" y2="336.3" stroke="#000" stroke-width="1.3"/>
<line x1="292.79999999999995" y1="335.7" x2="502.5" y2="335.7" stroke="#000" stroke-width="1.4"/>
<line x1="290.4" y1="258.74" x2="293.4" y2="258.74" stroke="#000" stroke-width="1.1"/>
<text x="289.6" y="261.34000000000003" font-size="8.4" font-weight="bold" text-anchor="end" fill="#000" stroke="#000" stroke-width="0.40" textLength="8.30" lengthAdjust="spacingAndGlyphs">80</text>
<line x1="290.4" y1="277.98" x2="293.4" y2="277.98" stroke="#000" stroke-width="1.1"/>
<text x="289.6" y="280.58000000000004" font-size="8.4" font-weight="bold" text-anchor="end" fill="#000" stroke="#000" stroke-width="0.40" textLength="8.30" lengthAdjust="spacingAndGlyphs">60</text>
<line x1="290.4" y1="297.22" x2="293.4" y2="297.22" stroke="#000" stroke-width="1.1"/>
<text x="289.6" y="299.82" font-size="8.4" font-weight="bold" text-anchor="end" fill="#000" stroke="#000" stroke-width="0.40" textLength="8.30" lengthAdjust="spacingAndGlyphs">40</text>
<line x1="290.4" y1="316.46" x2="293.4" y2="316.46" stroke="#000" stroke-width="1.1"/>
<text x="289.6" y="319.06" font-size="8.4" font-weight="bold" text-anchor="end" fill="#000" stroke="#000" stroke-width="0.40" textLength="8.30" lengthAdjust="spacingAndGlyphs">20</text>
<line x1="290.4" y1="335.70" x2="293.4" y2="335.70" stroke="#000" stroke-width="1.1"/>
<text x="289.6" y="338.3" font-size="8.4" font-weight="bold" text-anchor="end" fill="#000" stroke="#000" stroke-width="0.40" textLength="4.15" lengthAdjust="spacingAndGlyphs">0</text>
<line x1="306.95000000000005" y1="335.7" x2="306.95000000000005" y2="338.2" stroke="#000" stroke-width="1"/>
<line x1="302.1" y1="282.31" x2="302.1" y2="292.99" stroke="#000" stroke-width="1.1"/>
<line x1="299.90000000000003" y1="282.31" x2="304.3" y2="282.31" stroke="#000" stroke-width="1.1"/>
<rect x="298.75" y="293.44" width="6.70" height="42.26" fill="#000" stroke="#000" stroke-width="0.9"/>
<line x1="311.8" y1="270.57" x2="311.8" y2="280.29" stroke="#000" stroke-width="1.1"/>
<line x1="309.6" y1="270.57" x2="314.0" y2="270.57" stroke="#000" stroke-width="1.1"/>
<rect x="308.45" y="280.74" width="6.70" height="54.96" fill="#fff" stroke="#000" stroke-width="0.9"/>
<line x1="333.05000000000007" y1="335.7" x2="333.05000000000007" y2="338.2" stroke="#000" stroke-width="1"/>
<path d="M324.85 335.7 L324.85 331.15 Q324.85 329.35 326.65 329.35 L329.75 329.35 Q331.55 329.35 331.55 331.15 L331.55 335.7 Z" fill="#000" stroke="#000" stroke-width="0.95"/>
<path d="M334.55 335.7 L334.55 331.34 Q334.55 329.54 336.35 329.54 L339.45 329.54 Q341.25 329.54 341.25 331.34 L341.25 335.7 Z" fill="#fff" stroke="#000" stroke-width="0.95"/>
<line x1="359.15" y1="335.7" x2="359.15" y2="338.2" stroke="#000" stroke-width="1"/>
<path d="M350.95 335.7 L350.95 331.05 Q350.95 329.25 352.75 329.25 L355.85 329.25 Q357.65 329.25 357.65 331.05 L357.65 335.7 Z" fill="#000" stroke="#000" stroke-width="0.95"/>
<path d="M360.65 335.7 L360.65 331.25 Q360.65 329.45 362.45 329.45 L365.55 329.45 Q367.35 329.45 367.35 331.25 L367.35 335.7 Z" fill="#fff" stroke="#000" stroke-width="0.95"/>
<line x1="385.25" y1="335.7" x2="385.25" y2="338.2" stroke="#000" stroke-width="1"/>
<line x1="380.40000000000003" y1="299.82" x2="380.40000000000003" y2="309.05" stroke="#000" stroke-width="1.1"/>
<line x1="378.20000000000005" y1="299.82" x2="382.6" y2="299.82" stroke="#000" stroke-width="1.1"/>
<rect x="377.05" y="309.50" width="6.70" height="26.20" fill="#000" stroke="#000" stroke-width="0.9"/>
<line x1="390.1" y1="291.06" x2="390.1" y2="298.86" stroke="#000" stroke-width="1.1"/>
<line x1="387.90000000000003" y1="291.06" x2="392.3" y2="291.06" stroke="#000" stroke-width="1.1"/>
<rect x="386.75" y="299.31" width="6.70" height="36.39" fill="#fff" stroke="#000" stroke-width="0.9"/>
<line x1="411.35" y1="335.7" x2="411.35" y2="338.2" stroke="#000" stroke-width="1"/>
<line x1="406.5" y1="324.44" x2="406.5" y2="325.50" stroke="#000" stroke-width="1.1"/>
<line x1="404.3" y1="324.44" x2="408.7" y2="324.44" stroke="#000" stroke-width="1.1"/>
<rect x="403.15" y="325.95" width="6.70" height="9.75" fill="#000" stroke="#000" stroke-width="0.9"/>
<line x1="416.2" y1="321.46" x2="416.2" y2="324.06" stroke="#000" stroke-width="1.1"/>
<line x1="414.0" y1="321.46" x2="418.4" y2="321.46" stroke="#000" stroke-width="1.1"/>
<rect x="412.85" y="324.51" width="6.70" height="11.19" fill="#fff" stroke="#000" stroke-width="0.9"/>
<line x1="437.45000000000005" y1="335.7" x2="437.45000000000005" y2="338.2" stroke="#000" stroke-width="1"/>
<line x1="432.6" y1="328.29" x2="432.6" y2="330.31" stroke="#000" stroke-width="1.1"/>
<line x1="430.40000000000003" y1="328.29" x2="434.8" y2="328.29" stroke="#000" stroke-width="1.1"/>
<path d="M429.25 335.7 L429.25 332.11 Q429.25 330.31 431.05 330.31 L434.15 330.31 Q435.95 330.31 435.95 332.11 L435.95 335.7 Z" fill="#000" stroke="#000" stroke-width="0.95"/>
<path d="M438.95 335.7 L438.95 331.44 Q438.95 329.64 440.75 329.64 L443.85 329.64 Q445.65 329.64 445.65 331.44 L445.65 335.7 Z" fill="#fff" stroke="#000" stroke-width="0.95"/>
<line x1="463.55000000000007" y1="335.7" x2="463.55000000000007" y2="338.2" stroke="#000" stroke-width="1"/>
<line x1="458.70000000000005" y1="330.02" x2="458.70000000000005" y2="331.47" stroke="#000" stroke-width="1.1"/>
<line x1="456.50000000000006" y1="330.02" x2="460.90000000000003" y2="330.02" stroke="#000" stroke-width="1.1"/>
<path d="M455.35 335.7 L455.35 333.27 Q455.35 331.47 457.15 331.47 L460.25 331.47 Q462.05 331.47 462.05 333.27 L462.05 335.7 Z" fill="#000" stroke="#000" stroke-width="0.95"/>
<path d="M465.05 335.7 L465.05 334.55 Q465.05 332.81 466.78 332.81 L470.02 332.81 Q471.75 332.81 471.75 334.55 L471.75 335.7 Z" fill="#fff" stroke="#000" stroke-width="0.95"/>
<line x1="489.6500000000001" y1="335.7" x2="489.6500000000001" y2="338.2" stroke="#000" stroke-width="1"/>
<path d="M481.45 335.7 L481.45 335.06 Q481.45 334.10 482.41 334.10 L487.19 334.10 Q488.15 334.10 488.15 335.06 L488.15 335.7 Z" fill="#000" stroke="#000" stroke-width="0.95"/>
<path d="M491.15 335.7 L491.15 334.85 Q491.15 333.58 492.42 333.58 L496.58 333.58 Q497.85 333.58 497.85 334.85 L497.85 335.7 Z" fill="#fff" stroke="#000" stroke-width="0.95"/>
<text x="307.45000000000005" y="345.5" font-size="9" font-weight="bold" stroke="#000" stroke-width="0.28" text-anchor="end" transform="rotate(-20 307.45000000000005 345.5)">LSK</text>
<text x="333.55000000000007" y="345.5" font-size="9" font-weight="bold" stroke="#000" stroke-width="0.28" text-anchor="end" transform="rotate(-20 333.55000000000007 345.5)">CD150<tspan font-size="6" dy="-3.2">+</tspan></text>
<text x="359.65000000000003" y="345.5" font-size="9" font-weight="bold" stroke="#000" stroke-width="0.28" text-anchor="end" transform="rotate(-20 359.65000000000003 345.5)">HSC</text>
<text x="385.75000000000006" y="345.5" font-size="9" font-weight="bold" stroke="#000" stroke-width="0.28" text-anchor="end" transform="rotate(-20 385.75000000000006 345.5)">MPP</text>
<text x="411.85" y="345.5" font-size="9" font-weight="bold" stroke="#000" stroke-width="0.28" text-anchor="end" transform="rotate(-20 411.85 345.5)">LMPP</text>
<text x="437.95000000000005" y="345.5" font-size="9" font-weight="bold" stroke="#000" stroke-width="0.28" text-anchor="end" transform="rotate(-20 437.95000000000005 345.5)">CLP</text>
<text x="464.05000000000007" y="345.5" font-size="9" font-weight="bold" stroke="#000" stroke-width="0.28" text-anchor="end" transform="rotate(-20 464.05000000000007 345.5)">ALP</text>
<text x="490.1500000000001" y="345.5" font-size="9" font-weight="bold" stroke="#000" stroke-width="0.28" text-anchor="end" transform="rotate(-20 490.1500000000001 345.5)">BLP</text>
<text x="274" y="331.9" font-size="8.5" font-weight="bold" fill="#000" stroke="#000" stroke-width="0.50" textLength="68.00" lengthAdjust="spacingAndGlyphs" transform="rotate(-90 274 331.9)">Cell number (x10</text>
<text x="269.6" y="263.9" font-size="5.4" font-weight="bold" fill="#000" stroke="#000" stroke-width="0.21" textLength="3.10" lengthAdjust="spacingAndGlyphs" transform="rotate(-90 269.6 263.9)">3</text>
<text x="274" y="260.3" font-size="8.5" font-weight="bold" fill="#000" stroke="#000" stroke-width="0.50" textLength="2.80" lengthAdjust="spacingAndGlyphs" transform="rotate(-90 274 260.3)">)</text>
<rect x="323.8" y="252.3" width="6.2" height="11.1" fill="#000"/>
<text x="333.1" y="261.8" font-size="8.5" font-weight="bold" fill="#000" font-style="italic" stroke="#000" stroke-width="0.50" textLength="25.40" lengthAdjust="spacingAndGlyphs">Suz12</text>
<text x="358.7" y="258" font-size="5" font-weight="bold" fill="#000" font-style="italic" stroke="#000" stroke-width="0.18" textLength="7.50" lengthAdjust="spacingAndGlyphs">+/+</text>
<text x="370" y="262.2" font-size="8.2" font-weight="bold" fill="#000" stroke="#000" stroke-width="0.50" textLength="10.00" lengthAdjust="spacingAndGlyphs">(7)</text>
<rect x="406.3" y="252.8" width="4.8" height="10.1" fill="#fff" stroke="#000" stroke-width="1"/>
<text x="414.6" y="261.8" font-size="8.5" font-weight="bold" fill="#000" font-style="italic" stroke="#000" stroke-width="0.50" textLength="25.70" lengthAdjust="spacingAndGlyphs">Suz12</text>
<text x="440.5" y="258" font-size="5" font-weight="bold" fill="#000" font-style="italic" stroke="#000" stroke-width="0.18" textLength="17.70" lengthAdjust="spacingAndGlyphs">Pft8/+</text>
<text x="460.8" y="262.2" font-size="8.2" font-weight="bold" fill="#000" stroke="#000" stroke-width="0.50" textLength="10.00" lengthAdjust="spacingAndGlyphs">(7)</text>
<path d="M301.8 268 V261.4 H312.6 V268" fill="none" stroke="#000" stroke-width="1"/>
<text x="307.2" y="264.2" font-size="12.5" font-weight="bold" text-anchor="middle" fill="#000" stroke="#000" stroke-width="0.50">*</text>
<path d="M380.5 289.5 V281.2 H390.2 V289.5" fill="none" stroke="#000" stroke-width="1"/>
<text x="385.7" y="283.5" font-size="12.5" font-weight="bold" text-anchor="middle" fill="#000" stroke="#000" stroke-width="0.50">*</text>
<text x="261.8" y="8" font-size="8.6" font-weight="bold" fill="#000" stroke="#000" stroke-width="0.80" textLength="7.70" lengthAdjust="spacingAndGlyphs">C</text>
<text x="283.4" y="8.2" font-size="9.5" font-weight="bold" fill="#000" font-style="italic" stroke="#000" stroke-width="0.50" textLength="29.20" lengthAdjust="spacingAndGlyphs">Suz12</text>
<text x="312.6" y="4.6" font-size="5.3" font-weight="bold" fill="#000" font-style="italic" stroke="#000" stroke-width="0.20" textLength="8.40" lengthAdjust="spacingAndGlyphs">+/+</text>
<text x="336.3" y="8.3" font-size="9.5" font-weight="bold" fill="#000" font-style="italic" stroke="#000" stroke-width="0.50" textLength="29.50" lengthAdjust="spacingAndGlyphs">Suz12</text>
<text x="365.8" y="4.8" font-size="5.3" font-weight="bold" fill="#000" font-style="italic" stroke="#000" stroke-width="0.20" textLength="18.40" lengthAdjust="spacingAndGlyphs">Pft8/+</text>
<rect x="277.3" y="15.7" width="48.20" height="48.40" fill="none" stroke="#9a9a9a" stroke-width="0.85"/>
<rect x="274.1" y="20.5" width="2" height="0.9" fill="#b4b4b4"/>
<rect x="274.1" y="30.2" width="2" height="0.9" fill="#b4b4b4"/>
<rect x="274.1" y="39.9" width="2" height="0.9" fill="#b4b4b4"/>
<rect x="274.1" y="49.6" width="2" height="0.9" fill="#b4b4b4"/>
<rect x="274.1" y="59.3" width="2" height="0.9" fill="#b4b4b4"/>
<rect x="282.1" y="66.3" width="2.2" height="0.9" fill="#b4b4b4"/>
<rect x="291.8" y="66.3" width="2.2" height="0.9" fill="#b4b4b4"/>
<rect x="301.4" y="66.3" width="2.2" height="0.9" fill="#b4b4b4"/>
<rect x="311.0" y="66.3" width="2.2" height="0.9" fill="#b4b4b4"/>
<rect x="320.7" y="66.3" width="2.2" height="0.9" fill="#b4b4b4"/>
<text x="280.8" y="21.5" font-size="4.8" font-weight="bold" fill="#000" stroke="#000" stroke-width="0.12" textLength="34.40" lengthAdjust="spacingAndGlyphs">Gated on LIN-ve</text>
<g filter="url(#b1)"><rect x="289.5" y="43.5" width="5" height="7" fill="#e4e4d8"/></g>
<g filter="url(#b05)"><path d="M290.0 36.8 Q291.0 34.4 296.0 34.6 Q301.0 35 305.0 36.8 Q301.0 38.8 296.0 39.1 Q291.0 39.2 290.0 36.8 Z" fill="#a8a8a8" stroke="#606060" stroke-width="0.9"/></g>
<g filter="url(#b05)"><path d="M283.2 33.2 C287.2 33.2 288.2 37 287.8 41 C287.4 44.5 286.0 47.5 286.59999999999997 50.5 C289.0 52.5 289.5 58 288.59999999999997 61 C287.59999999999997 64.2 279.2 64.2 278.5 61 C277.8 58 278.7 53 280.59999999999997 50.5 C281.2 47.5 278.8 44.5 278.59999999999997 41 C278.4 37 279.4 33.2 283.2 33.2 Z" fill="#9a9a9a" stroke="#000" stroke-width="1.8"/><ellipse cx="283.7" cy="58" rx="4.8" ry="5.4" fill="#111"/><ellipse cx="283.5" cy="39.6" rx="2.4" ry="4.3" fill="#ececec" stroke="#555" stroke-width="0.7"/><path d="M282.7 45 L282.4 52" stroke="#222" stroke-width="0.9"/><ellipse cx="283.8" cy="57.5" rx="1.2" ry="1.8" fill="#666"/></g>
<rect x="288.7" y="32.2" width="22.50" height="8.80" fill="none" stroke="#28289e" stroke-width="1.25"/>
<rect x="288.7" y="42.1" width="16.80" height="9.80" fill="none" stroke="#28289e" stroke-width="1.25"/>
<text x="295.6" y="29.6" font-size="5.6" font-weight="bold" fill="#000" stroke="#000" stroke-width="0.23" textLength="10.60" lengthAdjust="spacingAndGlyphs">4.88</text>
<text x="306.7" y="49.1" font-size="5.6" font-weight="bold" fill="#000" stroke="#000" stroke-width="0.23" textLength="10.20" lengthAdjust="spacingAndGlyphs">4.04</text>
<rect x="332.5" y="15.7" width="47.70" height="48.40" fill="none" stroke="#9a9a9a" stroke-width="0.85"/>
<rect x="329.3" y="20.5" width="2" height="0.9" fill="#b4b4b4"/>
<rect x="329.3" y="30.2" width="2" height="0.9" fill="#b4b4b4"/>
<rect x="329.3" y="39.9" width="2" height="0.9" fill="#b4b4b4"/>
<rect x="329.3" y="49.6" width="2" height="0.9" fill="#b4b4b4"/>
<rect x="329.3" y="59.3" width="2" height="0.9" fill="#b4b4b4"/>
<rect x="337.3" y="66.3" width="2.2" height="0.9" fill="#b4b4b4"/>
<rect x="346.8" y="66.3" width="2.2" height="0.9" fill="#b4b4b4"/>
<rect x="356.4" y="66.3" width="2.2" height="0.9" fill="#b4b4b4"/>
<rect x="365.9" y="66.3" width="2.2" height="0.9" fill="#b4b4b4"/>
<rect x="375.4" y="66.3" width="2.2" height="0.9" fill="#b4b4b4"/>
<text x="336.0" y="21.5" font-size="4.8" font-weight="bold" fill="#000" stroke="#000" stroke-width="0.12" textLength="34.40" lengthAdjust="spacingAndGlyphs">Gated on LIN-ve</text>
<g filter="url(#b1)"><rect x="344.7" y="43.5" width="5" height="7" fill="#e4e4d8"/></g>
<g filter="url(#b05)"><path d="M345.2 36.8 Q346.2 34.4 351.2 34.6 Q356.2 35 360.2 36.8 Q356.2 38.8 351.2 39.1 Q346.2 39.2 345.2 36.8 Z" fill="#a8a8a8" stroke="#606060" stroke-width="0.9"/></g>
<g filter="url(#b05)"><path d="M338.4 33.2 C342.4 33.2 343.4 37 343.0 41 C342.59999999999997 44.5 341.2 47.5 341.79999999999995 50.5 C344.2 52.5 344.7 58 343.79999999999995 61 C342.79999999999995 64.2 334.4 64.2 333.7 61 C333.0 58 333.9 53 335.79999999999995 50.5 C336.4 47.5 334.0 44.5 333.79999999999995 41 C333.59999999999997 37 334.59999999999997 33.2 338.4 33.2 Z" fill="#9a9a9a" stroke="#000" stroke-width="1.8"/><ellipse cx="338.9" cy="58" rx="4.8" ry="5.4" fill="#111"/><ellipse cx="338.7" cy="39.6" rx="2.4" ry="4.3" fill="#ececec" stroke="#555" stroke-width="0.7"/><path d="M337.9 45 L337.59999999999997 52" stroke="#222" stroke-width="0.9"/><ellipse cx="339.0" cy="57.5" rx="1.2" ry="1.8" fill="#666"/></g>
<rect x="343.6" y="32.2" width="22.00" height="8.80" fill="none" stroke="#28289e" stroke-width="1.25"/>
<rect x="343.6" y="42.1" width="15.60" height="9.80" fill="none" stroke="#28289e" stroke-width="1.25"/>
<text x="350.2" y="29.6" font-size="5.6" font-weight="bold" fill="#000" stroke="#000" stroke-width="0.23" textLength="10.60" lengthAdjust="spacingAndGlyphs">5.08</text>
<text x="360.6" y="49.1" font-size="5.6" font-weight="bold" fill="#000" stroke="#000" stroke-width="0.23" textLength="10.20" lengthAdjust="spacingAndGlyphs">4.01</text>
<text x="271.8" y="62.2" font-size="9" font-weight="normal" fill="#000" stroke="#000" stroke-width="0.45" textLength="18.70" lengthAdjust="spacingAndGlyphs" transform="rotate(-90 271.8 62.2)">c-Kit</text>
<line x1="268.5" y1="40" x2="268.5" y2="20.3" stroke="#000" stroke-width="1.5"/>
<polyline points="265.7,24.8 268.5,19.3 271.3,24.8" fill="none" stroke="#000" stroke-width="1.5"/>
<text x="282.5" y="76.8" font-size="8.7" font-weight="normal" fill="#000" stroke="#000" stroke-width="0.45" textLength="22.40" lengthAdjust="spacingAndGlyphs">Sca-1</text>
<line x1="307" y1="73.5" x2="365" y2="73.5" stroke="#000" stroke-width="1.5"/>
<polyline points="360.5,70.7 366,73.5 360.5,76.3" fill="none" stroke="#000" stroke-width="1.5"/>
<text x="279.4" y="88.3" font-size="7.8" font-weight="bold" fill="#000" stroke="#000" stroke-width="0.47" textLength="24.30" lengthAdjust="spacingAndGlyphs">Gated</text>
<text x="309" y="88.3" font-size="7.8" font-weight="bold" fill="#000" stroke="#000" stroke-width="0.47" textLength="9.80" lengthAdjust="spacingAndGlyphs">on</text>
<text x="326" y="88.3" font-size="7.8" font-weight="bold" fill="#000" stroke="#000" stroke-width="0.47" textLength="17.70" lengthAdjust="spacingAndGlyphs">c-Kit</text>
<text x="344" y="84.5" font-size="5" font-weight="bold" fill="#000" stroke="#000" stroke-width="0.18" textLength="9.70" lengthAdjust="spacingAndGlyphs">int</text>
<rect x="278.9" y="93.3" width="47.60" height="47.50" fill="none" stroke="#9a9a9a" stroke-width="0.85"/>
<rect x="275.7" y="98.0" width="2" height="0.9" fill="#b4b4b4"/>
<rect x="275.7" y="107.6" width="2" height="0.9" fill="#b4b4b4"/>
<rect x="275.7" y="117.1" width="2" height="0.9" fill="#b4b4b4"/>
<rect x="275.7" y="126.6" width="2" height="0.9" fill="#b4b4b4"/>
<rect x="275.7" y="136.1" width="2" height="0.9" fill="#b4b4b4"/>
<rect x="283.7" y="143.0" width="2.2" height="0.9" fill="#b4b4b4"/>
<rect x="293.2" y="143.0" width="2.2" height="0.9" fill="#b4b4b4"/>
<rect x="302.7" y="143.0" width="2.2" height="0.9" fill="#b4b4b4"/>
<rect x="312.2" y="143.0" width="2.2" height="0.9" fill="#b4b4b4"/>
<rect x="321.7" y="143.0" width="2.2" height="0.9" fill="#b4b4b4"/>
<text x="280.9" y="99.2" font-size="5" font-weight="bold" fill="#000" stroke="#000" stroke-width="0.18" textLength="10.20" lengthAdjust="spacingAndGlyphs">CLP</text>
<g filter="url(#b1)"><path d="M279.5 105.5 L294.0 106.5 Q301.0 108 304.0 112 Q302.0 120 296.0 122.5 L279.5 125.5 Z" fill="#dedede"/></g>
<g filter="url(#b05)" fill="none" stroke="#4a4a4a" stroke-width="1.1"><path d="M280.9 108.3 L280.7 121.5" stroke="#333" stroke-width="1.3"/><path d="M282.5 109.5 Q288.0 107 293.0 110"/><path d="M293.0 110 L285.0 116.5 Q290.0 122.5 293.5 120.5"/><path d="M282.5 109.5 L283.0 120.5 Q287.0 123 293.5 120.5" stroke="#777" stroke-width="0.9"/><path d="M293.0 110 Q298.0 109 302.0 112" stroke="#999" stroke-width="0.8"/><path d="M293.5 120.5 Q298.0 121 301.5 117.5" stroke="#999" stroke-width="0.8"/><path d="M288.0 112 Q292.0 113 296.0 112" stroke="#aaa" stroke-width="0.7"/></g>
<g filter="url(#b05)"><ellipse cx="306.6" cy="121.2" rx="5.6" ry="3.9" transform="rotate(-30 306.6 121.2)" fill="#d4d4d4" stroke="#0a0a0a" stroke-width="1.7"/><ellipse cx="310.2" cy="114" rx="2.9" ry="4.9" fill="#bcc0a0" stroke="#0a0a0a" stroke-width="1.6"/><ellipse cx="310.0" cy="113.6" rx="1.1" ry="2.6" fill="none" stroke="#6a7a30" stroke-width="0.8"/><ellipse cx="305.5" cy="122" rx="1.8" ry="1.1" fill="#f4f4f4"/></g>
<rect x="304.2" y="105.3" width="12.60" height="12.40" fill="none" stroke="#28289e" stroke-width="1.25"/>
<text x="305.4" y="103.5" font-size="5.6" font-weight="bold" fill="#000" stroke="#000" stroke-width="0.23" textLength="9.80" lengthAdjust="spacingAndGlyphs">14.7</text>
<rect x="332.3" y="93.3" width="45.20" height="47.50" fill="none" stroke="#9a9a9a" stroke-width="0.85"/>
<rect x="329.1" y="98.0" width="2" height="0.9" fill="#b4b4b4"/>
<rect x="329.1" y="107.6" width="2" height="0.9" fill="#b4b4b4"/>
<rect x="329.1" y="117.1" width="2" height="0.9" fill="#b4b4b4"/>
<rect x="329.1" y="126.6" width="2" height="0.9" fill="#b4b4b4"/>
<rect x="329.1" y="136.1" width="2" height="0.9" fill="#b4b4b4"/>
<rect x="336.8" y="143.0" width="2.2" height="0.9" fill="#b4b4b4"/>
<rect x="345.9" y="143.0" width="2.2" height="0.9" fill="#b4b4b4"/>
<rect x="354.9" y="143.0" width="2.2" height="0.9" fill="#b4b4b4"/>
<rect x="363.9" y="143.0" width="2.2" height="0.9" fill="#b4b4b4"/>
<rect x="373.0" y="143.0" width="2.2" height="0.9" fill="#b4b4b4"/>
<text x="334.3" y="99.2" font-size="5" font-weight="bold" fill="#000" stroke="#000" stroke-width="0.18" textLength="10.20" lengthAdjust="spacingAndGlyphs">CLP</text>
<g filter="url(#b1)"><path d="M332.90000000000003 105.5 L347.40000000000003 106.5 Q355.0 108 358.0 112 Q356.0 120 349.40000000000003 122.5 L332.90000000000003 125.5 Z" fill="#dedede"/></g>
<g filter="url(#b05)" fill="none" stroke="#4a4a4a" stroke-width="1.1"><path d="M334.3 108.3 L334.1 121.5" stroke="#333" stroke-width="1.3"/><path d="M335.90000000000003 109.5 Q341.40000000000003 107 346.40000000000003 110"/><path d="M346.40000000000003 110 L338.40000000000003 116.5 Q343.40000000000003 122.5 346.90000000000003 120.5"/><path d="M335.90000000000003 109.5 L336.40000000000003 120.5 Q340.40000000000003 123 346.90000000000003 120.5" stroke="#777" stroke-width="0.9"/><path d="M346.40000000000003 110 Q351.40000000000003 109 356.0 112" stroke="#999" stroke-width="0.8"/><path d="M346.90000000000003 120.5 Q351.40000000000003 121 355.5 117.5" stroke="#999" stroke-width="0.8"/><path d="M341.40000000000003 112 Q345.40000000000003 113 349.40000000000003 112" stroke="#aaa" stroke-width="0.7"/></g>
<g filter="url(#b05)"><ellipse cx="360.6" cy="121.2" rx="5.6" ry="3.9" transform="rotate(-30 360.6 121.2)" fill="#d4d4d4" stroke="#0a0a0a" stroke-width="1.7"/><ellipse cx="364.2" cy="114" rx="2.9" ry="4.9" fill="#bcc0a0" stroke="#0a0a0a" stroke-width="1.6"/><ellipse cx="364.0" cy="113.6" rx="1.1" ry="2.6" fill="none" stroke="#6a7a30" stroke-width="0.8"/><ellipse cx="359.5" cy="122" rx="1.8" ry="1.1" fill="#f4f4f4"/></g>
<rect x="358.2" y="105.3" width="12.60" height="12.40" fill="none" stroke="#28289e" stroke-width="1.25"/>
<text x="359.1" y="103.5" font-size="5.6" font-weight="bold" fill="#000" stroke="#000" stroke-width="0.23" textLength="9.80" lengthAdjust="spacingAndGlyphs">17.7</text>
<text x="270.5" y="138.9" font-size="8" font-weight="normal" fill="#000" stroke="#000" stroke-width="0.45" textLength="18.90" lengthAdjust="spacingAndGlyphs" transform="rotate(-90 270.5 138.9)">FLT3</text>
<line x1="267.4" y1="115.4" x2="267.4" y2="95.6" stroke="#000" stroke-width="1.5"/>
<polyline points="264.59999999999997,100.1 267.4,94.6 270.2,100.1" fill="none" stroke="#000" stroke-width="1.5"/>
<text x="282.6" y="154" font-size="8.5" font-weight="normal" fill="#000" stroke="#000" stroke-width="0.45" textLength="27.70" lengthAdjust="spacingAndGlyphs">IL-7R&#945;</text>
<line x1="310" y1="151.3" x2="371" y2="151.3" stroke="#000" stroke-width="1.5"/>
<polyline points="366.5,148.5 372,151.3 366.5,154.10000000000002" fill="none" stroke="#000" stroke-width="1.5"/>
<text x="285.4" y="168.2" font-size="7.8" font-weight="bold" fill="#000" stroke="#000" stroke-width="0.47" textLength="24.30" lengthAdjust="spacingAndGlyphs">Gated</text>
<text x="315.7" y="168.2" font-size="7.8" font-weight="bold" fill="#000" stroke="#000" stroke-width="0.47" textLength="9.80" lengthAdjust="spacingAndGlyphs">on</text>
<text x="332.2" y="168.2" font-size="7.8" font-weight="bold" fill="#000" stroke="#000" stroke-width="0.47" textLength="17.30" lengthAdjust="spacingAndGlyphs">CLP</text>
<rect x="277.6" y="172.8" width="47.90" height="46.00" fill="none" stroke="#9a9a9a" stroke-width="0.85"/>
<rect x="274.4" y="177.4" width="2" height="0.9" fill="#b4b4b4"/>
<rect x="274.4" y="186.6" width="2" height="0.9" fill="#b4b4b4"/>
<rect x="274.4" y="195.8" width="2" height="0.9" fill="#b4b4b4"/>
<rect x="274.4" y="205.0" width="2" height="0.9" fill="#b4b4b4"/>
<rect x="274.4" y="214.2" width="2" height="0.9" fill="#b4b4b4"/>
<rect x="282.4" y="221.0" width="2.2" height="0.9" fill="#b4b4b4"/>
<rect x="292.0" y="221.0" width="2.2" height="0.9" fill="#b4b4b4"/>
<rect x="301.6" y="221.0" width="2.2" height="0.9" fill="#b4b4b4"/>
<rect x="311.1" y="221.0" width="2.2" height="0.9" fill="#b4b4b4"/>
<rect x="320.7" y="221.0" width="2.2" height="0.9" fill="#b4b4b4"/>
<g filter="url(#b1)"><rect x="279.3" y="187.5" width="31.9" height="10.5" rx="3" fill="#dcdcd4"/></g>
<g filter="url(#b05)"><path d="M291.1 190.3 Q285.3 188.6 280.7 191.3 Q278.7 193.5 280.7 195.7 Q285.3 198 290.6 196.2" fill="#c0c0a8" stroke="#000" stroke-width="1.8"/><path d="M290.3 190.5 Q293.8 193 290.3 196" fill="none" stroke="#777" stroke-width="1"/><path d="M297.9 189.8 Q303.2 188.3 307.59999999999997 192.5 Q303.2 196.7 297.9 195.7" fill="#a8a890" stroke="#1a1a1a" stroke-width="1.6"/><ellipse cx="301.7" cy="192.6" rx="2.2" ry="1.2" fill="#e8e8e0"/></g>
<rect x="278.3" y="184.3" width="16.90" height="15.80" fill="none" stroke="#28289e" stroke-width="1.25"/>
<rect x="295.2" y="184.3" width="17.00" height="15.80" fill="none" stroke="#28289e" stroke-width="1.25"/>
<line x1="295.2" y1="184.3" x2="295.2" y2="200.1" stroke="#24249e" stroke-width="1.6"/>
<text x="281.8" y="183" font-size="5.6" font-weight="bold" fill="#000" stroke="#000" stroke-width="0.23" textLength="10.30" lengthAdjust="spacingAndGlyphs">61.3</text>
<text x="299.1" y="183" font-size="5.6" font-weight="bold" fill="#000" stroke="#000" stroke-width="0.23" textLength="10.30" lengthAdjust="spacingAndGlyphs">36.9</text>
<text x="287.25" y="206.6" font-size="5.6" font-weight="bold" text-anchor="middle" fill="#000" stroke="#000" stroke-width="0.23" textLength="9.80" lengthAdjust="spacingAndGlyphs">ALP</text>
<text x="304.0" y="206.6" font-size="5.6" font-weight="bold" text-anchor="middle" fill="#000" stroke="#000" stroke-width="0.23" textLength="9.80" lengthAdjust="spacingAndGlyphs">BLP</text>
<rect x="332.5" y="172.8" width="47.30" height="46.00" fill="none" stroke="#9a9a9a" stroke-width="0.85"/>
<rect x="329.3" y="177.4" width="2" height="0.9" fill="#b4b4b4"/>
<rect x="329.3" y="186.6" width="2" height="0.9" fill="#b4b4b4"/>
<rect x="329.3" y="195.8" width="2" height="0.9" fill="#b4b4b4"/>
<rect x="329.3" y="205.0" width="2" height="0.9" fill="#b4b4b4"/>
<rect x="329.3" y="214.2" width="2" height="0.9" fill="#b4b4b4"/>
<rect x="337.2" y="221.0" width="2.2" height="0.9" fill="#b4b4b4"/>
<rect x="346.7" y="221.0" width="2.2" height="0.9" fill="#b4b4b4"/>
<rect x="356.1" y="221.0" width="2.2" height="0.9" fill="#b4b4b4"/>
<rect x="365.6" y="221.0" width="2.2" height="0.9" fill="#b4b4b4"/>
<rect x="375.1" y="221.0" width="2.2" height="0.9" fill="#b4b4b4"/>
<g filter="url(#b1)"><rect x="333.5" y="187.5" width="32.0" height="10.5" rx="3" fill="#dcdcd4"/></g>
<g filter="url(#b05)"><path d="M345.3 190.3 Q339.5 188.6 334.9 191.3 Q332.9 193.5 334.9 195.7 Q339.5 198 344.8 196.2" fill="#c0c0a8" stroke="#000" stroke-width="1.8"/><path d="M344.5 190.5 Q348.0 193 344.5 196" fill="none" stroke="#777" stroke-width="1"/><path d="M351.5 189.8 Q356.8 188.3 361.2 192.5 Q356.8 196.7 351.5 195.7" fill="#a8a890" stroke="#1a1a1a" stroke-width="1.6"/><ellipse cx="355.3" cy="192.6" rx="2.2" ry="1.2" fill="#e8e8e0"/></g>
<rect x="332.5" y="184.3" width="16.30" height="15.80" fill="none" stroke="#28289e" stroke-width="1.25"/>
<rect x="348.8" y="184.3" width="17.70" height="15.80" fill="none" stroke="#28289e" stroke-width="1.25"/>
<line x1="348.8" y1="184.3" x2="348.8" y2="200.1" stroke="#24249e" stroke-width="1.6"/>
<text x="337.3" y="183" font-size="5.6" font-weight="bold" fill="#000" stroke="#000" stroke-width="0.23" textLength="4.90" lengthAdjust="spacingAndGlyphs">60</text>
<text x="355" y="183" font-size="5.6" font-weight="bold" fill="#000" stroke="#000" stroke-width="0.23" textLength="5.20" lengthAdjust="spacingAndGlyphs">37</text>
<text x="341.15" y="206.6" font-size="5.6" font-weight="bold" text-anchor="middle" fill="#000" stroke="#000" stroke-width="0.23" textLength="9.80" lengthAdjust="spacingAndGlyphs">ALP</text>
<text x="357.95" y="206.6" font-size="5.6" font-weight="bold" text-anchor="middle" fill="#000" stroke="#000" stroke-width="0.23" textLength="9.80" lengthAdjust="spacingAndGlyphs">BLP</text>
<text x="270.8" y="217.5" font-size="8.5" font-weight="normal" fill="#000" stroke="#000" stroke-width="0.45" textLength="30.00" lengthAdjust="spacingAndGlyphs" transform="rotate(-90 270.8 217.5)">IL-7R&#945;</text>
<line x1="267.5" y1="185.6" x2="267.5" y2="174.8" stroke="#000" stroke-width="1.5"/>
<polyline points="264.7,179.3 267.5,173.8 270.3,179.3" fill="none" stroke="#000" stroke-width="1.5"/>
<text x="285.7" y="231" font-size="8.5" font-weight="normal" fill="#000" stroke="#000" stroke-width="0.45" textLength="20.80" lengthAdjust="spacingAndGlyphs">Ly6D</text>
<line x1="308.4" y1="229.4" x2="371.2" y2="229.4" stroke="#000" stroke-width="1.5"/>
<polyline points="366.7,226.6 372.2,229.4 366.7,232.20000000000002" fill="none" stroke="#000" stroke-width="1.5"/>
<text x="412.4" y="44.6" font-size="9.5" font-weight="bold" fill="#000" font-style="italic" stroke="#000" stroke-width="0.50" textLength="30.30" lengthAdjust="spacingAndGlyphs">Suz12</text>
<text x="442.9" y="40.8" font-size="5.3" font-weight="bold" fill="#000" font-style="italic" stroke="#000" stroke-width="0.20" textLength="9.00" lengthAdjust="spacingAndGlyphs">+/+</text>
<text x="469.3" y="44.8" font-size="9.5" font-weight="bold" fill="#000" font-style="italic" stroke="#000" stroke-width="0.50" textLength="29.50" lengthAdjust="spacingAndGlyphs">Suz12</text>
<text x="498.8" y="41" font-size="5.3" font-weight="bold" fill="#000" font-style="italic" stroke="#000" stroke-width="0.20" textLength="18.20" lengthAdjust="spacingAndGlyphs">Pft8/+</text>
<text x="411.5" y="56.9" font-size="7.8" font-weight="bold" fill="#000" stroke="#000" stroke-width="0.47" textLength="24.30" lengthAdjust="spacingAndGlyphs">Gated</text>
<text x="441.9" y="56.9" font-size="7.8" font-weight="bold" fill="#000" stroke="#000" stroke-width="0.47" textLength="9.80" lengthAdjust="spacingAndGlyphs">on</text>
<text x="458.1" y="56.9" font-size="7.8" font-weight="bold" fill="#000" stroke="#000" stroke-width="0.47" textLength="18.00" lengthAdjust="spacingAndGlyphs">LSK</text>
<rect x="404.2" y="60.4" width="48.20" height="48.40" fill="none" stroke="#9a9a9a" stroke-width="0.85"/>
<rect x="401.0" y="65.2" width="2" height="0.9" fill="#b4b4b4"/>
<rect x="401.0" y="74.9" width="2" height="0.9" fill="#b4b4b4"/>
<rect x="401.0" y="84.6" width="2" height="0.9" fill="#b4b4b4"/>
<rect x="401.0" y="94.3" width="2" height="0.9" fill="#b4b4b4"/>
<rect x="401.0" y="104.0" width="2" height="0.9" fill="#b4b4b4"/>
<rect x="409.0" y="111.0" width="2.2" height="0.9" fill="#b4b4b4"/>
<rect x="418.7" y="111.0" width="2.2" height="0.9" fill="#b4b4b4"/>
<rect x="428.3" y="111.0" width="2.2" height="0.9" fill="#b4b4b4"/>
<rect x="437.9" y="111.0" width="2.2" height="0.9" fill="#b4b4b4"/>
<rect x="447.6" y="111.0" width="2.2" height="0.9" fill="#b4b4b4"/>
<g filter="url(#b1)"><path d="M417.8 83 L417.8 76 Q419.3 70.5 426.9 70.5 Q439.4 70.5 440.9 76 L440.9 83 Z" fill="url(#lmpp)"/><ellipse cx="424.4" cy="74.5" rx="8" ry="3.6" fill="#66666f"/><ellipse cx="420.3" cy="78" rx="2.5" ry="3.5" fill="#8a8a94"/><ellipse cx="427.09999999999997" cy="73.6" rx="1.8" ry="2.6" fill="#0a0a0a"/><rect x="426.0" y="74.5" width="1.8" height="8" fill="#5a5a5a"/><rect x="417.8" y="85" width="23.1" height="10" fill="#dcdcdc"/><rect x="417.8" y="85" width="11.7" height="10" fill="#c8c8cc"/><rect x="427.9" y="85" width="3" height="10" fill="#f0f0ee"/></g>
<path d="M421.3 97.5 Q425.3 101 424.3 107 Q429.35 105 434.4 107 Q433.4 101 437.4 97.5 M425.3 98 Q429.35 101 433.4 98" fill="none" stroke="#c4c4a4" stroke-width="0.8"/>
<rect x="416.3" y="69.2" width="26.10" height="39.40" fill="none" stroke="#4646c6" stroke-width="1.3"/>
<line x1="416.3" y1="83.6" x2="442.4" y2="83.6" stroke="#4646c6" stroke-width="1.9"/>
<line x1="416.3" y1="96" x2="442.4" y2="96" stroke="#4646c6" stroke-width="1.9"/>
<text x="405.8" y="78.2" font-size="5.6" font-weight="bold" fill="#000" stroke="#000" stroke-width="0.23" textLength="9.90" lengthAdjust="spacingAndGlyphs">65.9</text>
<text x="405.8" y="92.2" font-size="5.6" font-weight="bold" fill="#000" stroke="#000" stroke-width="0.23" textLength="9.90" lengthAdjust="spacingAndGlyphs">20.6</text>
<text x="405.8" y="105.4" font-size="5.6" font-weight="bold" fill="#000" stroke="#000" stroke-width="0.23" textLength="9.90" lengthAdjust="spacingAndGlyphs">6.68</text>
<text x="443.7" y="77.5" font-size="5.2" font-weight="bold" fill="#000" stroke="#000" stroke-width="0.19" textLength="14.50" lengthAdjust="spacingAndGlyphs">LMPP</text>
<text x="443.7" y="90.9" font-size="5.2" font-weight="bold" fill="#000" stroke="#000" stroke-width="0.19" textLength="10.90" lengthAdjust="spacingAndGlyphs">MPP</text>
<text x="443.7" y="104.8" font-size="5.2" font-weight="bold" fill="#000" stroke="#000" stroke-width="0.19" textLength="10.40" lengthAdjust="spacingAndGlyphs">HSC</text>
<rect x="466.2" y="60.4" width="48.80" height="48.40" fill="none" stroke="#9a9a9a" stroke-width="0.85"/>
<rect x="463.0" y="65.2" width="2" height="0.9" fill="#b4b4b4"/>
<rect x="463.0" y="74.9" width="2" height="0.9" fill="#b4b4b4"/>
<rect x="463.0" y="84.6" width="2" height="0.9" fill="#b4b4b4"/>
<rect x="463.0" y="94.3" width="2" height="0.9" fill="#b4b4b4"/>
<rect x="463.0" y="104.0" width="2" height="0.9" fill="#b4b4b4"/>
<rect x="471.1" y="111.0" width="2.2" height="0.9" fill="#b4b4b4"/>
<rect x="480.8" y="111.0" width="2.2" height="0.9" fill="#b4b4b4"/>
<rect x="490.6" y="111.0" width="2.2" height="0.9" fill="#b4b4b4"/>
<rect x="500.4" y="111.0" width="2.2" height="0.9" fill="#b4b4b4"/>
<rect x="510.1" y="111.0" width="2.2" height="0.9" fill="#b4b4b4"/>
<g filter="url(#b1)"><path d="M479.1 83 L479.1 76 Q480.6 70.5 488.3 70.5 Q500.4 70.5 501.9 76 L501.9 83 Z" fill="url(#lmpp)"/><ellipse cx="485.8" cy="74.5" rx="8" ry="3.6" fill="#66666f"/><ellipse cx="481.6" cy="78" rx="2.5" ry="3.5" fill="#8a8a94"/><ellipse cx="488.5" cy="73.6" rx="1.8" ry="2.6" fill="#0a0a0a"/><rect x="487.40000000000003" y="74.5" width="1.8" height="8" fill="#5a5a5a"/><rect x="479.1" y="85" width="22.8" height="10" fill="#dcdcdc"/><rect x="479.1" y="85" width="11.6" height="10" fill="#c8c8cc"/><rect x="489.3" y="85" width="3" height="10" fill="#f0f0ee"/></g>
<path d="M482.6 97.5 Q486.6 101 485.6 107 Q490.5 105 495.4 107 Q494.4 101 498.4 97.5 M486.6 98 Q490.5 101 494.4 98" fill="none" stroke="#c4c4a4" stroke-width="0.8"/>
<rect x="477.6" y="69.2" width="25.80" height="39.40" fill="none" stroke="#4646c6" stroke-width="1.3"/>
<line x1="477.6" y1="83.6" x2="503.4" y2="83.6" stroke="#4646c6" stroke-width="1.9"/>
<line x1="477.6" y1="96" x2="503.4" y2="96" stroke="#4646c6" stroke-width="1.9"/>
<text x="466.9" y="78.2" font-size="5.6" font-weight="bold" fill="#000" stroke="#000" stroke-width="0.23" textLength="9.90" lengthAdjust="spacingAndGlyphs">65.4</text>
<text x="466.9" y="92.2" font-size="5.6" font-weight="bold" fill="#000" stroke="#000" stroke-width="0.23" textLength="9.90" lengthAdjust="spacingAndGlyphs">19.9</text>
<text x="466.9" y="105.4" font-size="5.6" font-weight="bold" fill="#000" stroke="#000" stroke-width="0.23" textLength="9.90" lengthAdjust="spacingAndGlyphs">7.48</text>
<text x="504.8" y="77.5" font-size="5.2" font-weight="bold" fill="#000" stroke="#000" stroke-width="0.19" textLength="14.50" lengthAdjust="spacingAndGlyphs">LMPP</text>
<text x="504.8" y="90.9" font-size="5.2" font-weight="bold" fill="#000" stroke="#000" stroke-width="0.19" textLength="10.90" lengthAdjust="spacingAndGlyphs">MPP</text>
<text x="504.8" y="104.8" font-size="5.2" font-weight="bold" fill="#000" stroke="#000" stroke-width="0.19" textLength="10.40" lengthAdjust="spacingAndGlyphs">HSC</text>
<text x="397" y="109.8" font-size="8.7" font-weight="normal" fill="#000" stroke="#000" stroke-width="0.45" textLength="20.20" lengthAdjust="spacingAndGlyphs" transform="rotate(-90 397 109.8)">FLT3</text>
<line x1="393.6" y1="86.2" x2="393.6" y2="66.5" stroke="#000" stroke-width="1.5"/>
<polyline points="390.8,71.0 393.6,65.5 396.40000000000003,71.0" fill="none" stroke="#000" stroke-width="1.5"/>
<text x="414.6" y="124.4" font-size="9.1" font-weight="normal" fill="#000" stroke="#000" stroke-width="0.45" textLength="17.90" lengthAdjust="spacingAndGlyphs">FSC</text>
<line x1="435.8" y1="121.5" x2="499.2" y2="121.5" stroke="#000" stroke-width="1.5"/>
<polyline points="494.7,118.7 500.2,121.5 494.7,124.3" fill="none" stroke="#000" stroke-width="1.5"/>
<rect x="403.9" y="132.4" width="47.90" height="47.90" fill="none" stroke="#9a9a9a" stroke-width="0.85"/>
<rect x="400.7" y="137.2" width="2" height="0.9" fill="#b4b4b4"/>
<rect x="400.7" y="146.8" width="2" height="0.9" fill="#b4b4b4"/>
<rect x="400.7" y="156.4" width="2" height="0.9" fill="#b4b4b4"/>
<rect x="400.7" y="165.9" width="2" height="0.9" fill="#b4b4b4"/>
<rect x="400.7" y="175.5" width="2" height="0.9" fill="#b4b4b4"/>
<rect x="408.7" y="182.5" width="2.2" height="0.9" fill="#b4b4b4"/>
<rect x="418.3" y="182.5" width="2.2" height="0.9" fill="#b4b4b4"/>
<rect x="427.9" y="182.5" width="2.2" height="0.9" fill="#b4b4b4"/>
<rect x="437.4" y="182.5" width="2.2" height="0.9" fill="#b4b4b4"/>
<rect x="447.0" y="182.5" width="2.2" height="0.9" fill="#b4b4b4"/>
<text x="411.8" y="138.7" font-size="5" font-weight="bold" fill="#000" stroke="#000" stroke-width="0.18" textLength="30.90" lengthAdjust="spacingAndGlyphs">CD150+ LSK</text>
<g filter="url(#b05)"><path d="M431.2 167.5 Q435.7 171 435.2 176 Q434.2 179.6 431.2 179.6 Q428.0 179.6 427.2 176 Q426.9 171 431.2 167.5 Z" fill="#555" stroke="#000" stroke-width="1.2"/><ellipse cx="431.2" cy="175" rx="2" ry="3" fill="#999" stroke="#111" stroke-width="0.8"/><ellipse cx="431.9" cy="158.2" rx="1.5" ry="4" fill="#e4e4e4" stroke="#aaa" stroke-width="0.6"/></g>
<rect x="426.9" y="151.3" width="10.60" height="14.30" fill="none" stroke="#28289e" stroke-width="1.25"/>
<text x="426.7" y="149.3" font-size="5.6" font-weight="bold" fill="#000" stroke="#000" stroke-width="0.23" textLength="9.50" lengthAdjust="spacingAndGlyphs">11.2</text>
<rect x="467.1" y="132.4" width="47.10" height="47.90" fill="none" stroke="#9a9a9a" stroke-width="0.85"/>
<rect x="463.9" y="137.2" width="2" height="0.9" fill="#b4b4b4"/>
<rect x="463.9" y="146.8" width="2" height="0.9" fill="#b4b4b4"/>
<rect x="463.9" y="156.4" width="2" height="0.9" fill="#b4b4b4"/>
<rect x="463.9" y="165.9" width="2" height="0.9" fill="#b4b4b4"/>
<rect x="463.9" y="175.5" width="2" height="0.9" fill="#b4b4b4"/>
<rect x="471.8" y="182.5" width="2.2" height="0.9" fill="#b4b4b4"/>
<rect x="481.2" y="182.5" width="2.2" height="0.9" fill="#b4b4b4"/>
<rect x="490.7" y="182.5" width="2.2" height="0.9" fill="#b4b4b4"/>
<rect x="500.1" y="182.5" width="2.2" height="0.9" fill="#b4b4b4"/>
<rect x="509.5" y="182.5" width="2.2" height="0.9" fill="#b4b4b4"/>
<text x="475.4" y="138.7" font-size="5" font-weight="bold" fill="#000" stroke="#000" stroke-width="0.18" textLength="30.40" lengthAdjust="spacingAndGlyphs">CD150+ LSK</text>
<g filter="url(#b05)"><path d="M493.8 167.5 Q498.3 171 497.8 176 Q496.8 179.6 493.8 179.6 Q490.6 179.6 489.8 176 Q489.5 171 493.8 167.5 Z" fill="#555" stroke="#000" stroke-width="1.2"/><ellipse cx="493.8" cy="175" rx="2" ry="3" fill="#999" stroke="#111" stroke-width="0.8"/><ellipse cx="494.5" cy="158.2" rx="1.5" ry="4" fill="#e4e4e4" stroke="#aaa" stroke-width="0.6"/></g>
<rect x="489.5" y="151.3" width="10.60" height="14.30" fill="none" stroke="#28289e" stroke-width="1.25"/>
<text x="489.8" y="149.3" font-size="5.6" font-weight="bold" fill="#000" stroke="#000" stroke-width="0.23" textLength="9.50" lengthAdjust="spacingAndGlyphs">9.73</text>
<text x="398.7" y="184.9" font-size="8.5" font-weight="normal" fill="#000" stroke="#000" stroke-width="0.45" textLength="26.50" lengthAdjust="spacingAndGlyphs" transform="rotate(-90 398.7 184.9)">CD150</text>
<line x1="394.8" y1="156.4" x2="394.8" y2="136.5" stroke="#000" stroke-width="1.5"/>
<polyline points="392.0,141.0 394.8,135.5 397.6,141.0" fill="none" stroke="#000" stroke-width="1.5"/>
<text x="410.5" y="192.3" font-size="9" font-weight="normal" fill="#000" stroke="#000" stroke-width="0.45" textLength="18.20" lengthAdjust="spacingAndGlyphs">c-Kit</text>
<line x1="437" y1="189.7" x2="496" y2="189.7" stroke="#000" stroke-width="1.5"/>
<polyline points="491.5,186.89999999999998 497,189.7 491.5,192.5" fill="none" stroke="#000" stroke-width="1.5"/>
</svg></body></html>
